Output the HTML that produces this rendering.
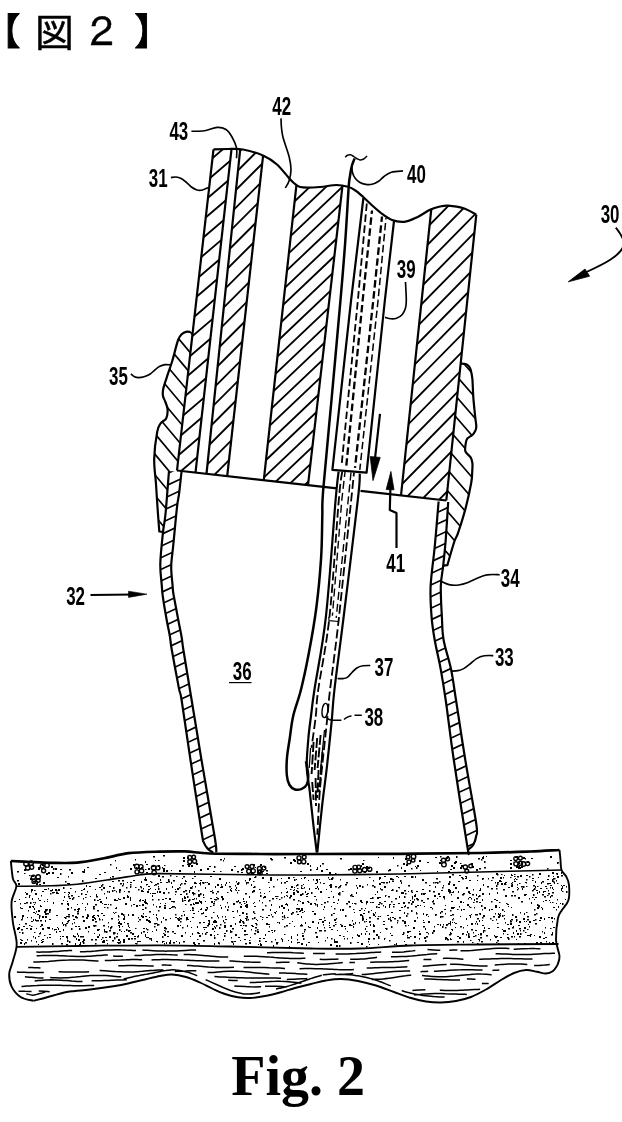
<!DOCTYPE html>
<html lang="ja"><head><meta charset="utf-8"><title>図2</title>
<style>html,body{margin:0;padding:0;background:#fff}svg{display:block;filter:grayscale(1)}</style></head>
<body><svg width="622" height="1122" viewBox="0 0 622 1122">
<defs><clipPath id="c1"><path d="M213.5,149.3 L214.6,149.3 L216.1,149.2 L217.9,149.2 L219.8,149.1 L221.9,149.1 L224.0,149.0 L226.1,149.0 L228.0,149.0 L229.8,149.0 L231.5,149.2 L195.5,472.6 L177.0,470.5Z"/></clipPath><clipPath id="c2"><path d="M240.2,149.3 L240.9,149.2 L243.0,149.5 L245.3,150.0 L247.9,150.6 L250.6,151.3 L253.3,152.1 L256.1,152.9 L258.7,153.8 L261.2,154.8 L263.1,155.6 L227.2,476.1 L206.5,473.8Z"/></clipPath><clipPath id="c3"><path d="M296.4,185.3 L297.0,185.5 L297.7,186.0 L298.3,186.4 L298.9,186.7 L299.4,186.9 L300.0,187.1 L300.8,187.2 L301.7,187.3 L303.0,187.4 L304.6,187.5 L306.5,187.5 L308.6,187.5 L310.8,187.4 L313.2,187.4 L315.5,187.3 L317.8,187.1 L320.0,187.0 L322.1,186.8 L324.3,186.5 L326.5,186.2 L328.7,185.9 L330.8,185.5 L332.8,185.3 L334.8,185.1 L336.6,185.0 L338.3,185.0 L339.9,185.1 L341.4,185.3 L342.5,185.6 L308.0,485.1 L263.8,480.2Z"/></clipPath><clipPath id="c4"><path d="M431.3,209.2 L431.4,209.2 L432.7,208.6 L434.0,208.2 L435.3,207.7 L436.5,207.4 L437.7,207.1 L438.9,206.8 L440.0,206.5 L441.0,206.2 L442.0,206.0 L442.8,205.8 L443.7,205.7 L444.5,205.6 L445.5,205.5 L446.7,205.5 L448.0,205.6 L449.6,205.7 L451.4,205.9 L453.4,206.2 L455.4,206.4 L457.6,206.8 L459.6,207.2 L461.6,207.7 L463.5,208.2 L465.3,208.9 L467.2,209.7 L469.1,210.6 L470.9,211.6 L472.6,212.5 L474.1,213.4 L475.3,214.1 L476.3,214.6 L446.3,500.5 L401.0,495.5Z"/></clipPath><clipPath id="c5"><path d="M169.0,471.0 L168.6,475.8 L168.1,482.7 L167.5,490.8 L166.8,499.1 L166.2,506.8 L165.6,513.0 L165.1,517.5 L164.6,520.9 L164.2,523.7 L163.8,526.3 L163.3,529.3 L162.9,533.0 L162.4,537.6 L161.9,542.8 L161.3,548.3 L160.9,553.8 L160.5,559.1 L160.3,563.8 L160.3,568.1 L160.5,572.1 L160.8,576.0 L161.2,579.5 L161.5,582.8 L161.8,585.7 L162.0,588.1 L162.1,589.9 L162.2,591.4 L162.3,592.9 L162.6,594.7 L162.9,597.2 L163.4,600.4 L164.0,604.2 L164.7,608.3 L165.4,612.4 L166.1,616.4 L166.7,620.0 L167.3,623.2 L167.9,626.2 L168.5,629.1 L169.0,631.8 L169.5,634.5 L170.0,637.0 L170.3,639.1 L170.5,640.7 L170.7,642.1 L170.9,643.9 L171.2,646.4 L171.8,650.0 L172.7,655.3 L174.0,662.0 L175.4,669.4 L176.7,676.8 L178.0,683.4 L179.0,688.6 L179.6,691.5 L180.0,692.6 L180.2,693.0 L180.4,693.6 L180.9,695.6 L181.6,700.0 L182.7,707.0 L184.0,716.0 L185.5,726.2 L187.1,737.3 L188.8,748.7 L190.5,760.0 L192.3,772.0 L194.4,785.4 L196.5,799.1 L198.5,812.1 L200.3,823.4 L201.6,832.0 L202.4,837.3 L202.9,840.1 L203.1,841.1 L203.1,841.2 L203.3,841.3 L203.6,842.0 L204.1,843.3 L204.7,844.5 L205.3,845.6 L206.0,846.6 L206.7,847.6 L207.5,848.5 L208.4,849.4 L209.5,850.2 L210.6,851.0 L211.7,851.6 L212.6,852.2 L213.2,852.6 L216.3,852.4 L216.3,851.4 L216.3,850.7 L216.3,849.5 L216.2,847.3 L215.7,843.3 L214.7,837.0 L213.1,827.6 L211.1,815.5 L208.7,801.7 L206.2,787.1 L203.7,772.9 L201.5,760.0 L199.5,748.1 L197.6,736.3 L195.7,724.8 L193.9,713.8 L192.2,703.4 L190.6,693.8 L189.1,684.8 L187.7,676.4 L186.4,668.6 L185.3,661.5 L184.2,655.3 L183.4,650.0 L182.8,646.1 L182.5,643.5 L182.3,641.8 L182.1,640.5 L181.9,639.0 L181.6,637.0 L181.2,634.5 L180.7,631.9 L180.1,629.2 L179.6,626.4 L178.9,623.3 L178.3,620.0 L177.6,616.1 L176.7,611.7 L175.8,607.0 L174.9,602.5 L174.2,598.4 L173.6,595.0 L173.2,592.7 L173.0,591.1 L172.9,590.0 L172.8,589.0 L172.7,587.6 L172.6,585.7 L172.4,583.1 L172.0,580.1 L171.7,576.8 L171.4,573.3 L171.2,569.8 L171.2,566.4 L171.3,563.3 L171.5,560.3 L171.9,557.3 L172.3,554.0 L172.7,550.3 L173.2,545.8 L173.7,540.1 L174.4,533.3 L175.1,526.1 L175.8,518.9 L176.4,512.4 L177.0,507.2 L177.4,503.6 L177.8,501.1 L178.1,499.3 L178.4,497.8 L178.8,496.0 L179.1,493.6 L179.5,490.2 L180.0,486.2 L180.4,481.9 L180.9,477.9 L181.2,474.4 L181.5,472.0Z"/></clipPath><clipPath id="c6"><path d="M438.6,501.5 L438.2,506.3 L437.7,512.9 L437.0,520.7 L436.3,529.1 L435.6,537.4 L434.9,545.0 L434.2,552.1 L433.3,559.3 L432.5,566.4 L431.7,573.4 L431.0,580.0 L430.6,586.3 L430.4,592.1 L430.5,597.7 L430.6,602.9 L430.9,607.9 L431.3,612.6 L431.6,617.2 L432.0,621.4 L432.4,625.2 L432.8,628.7 L433.4,632.3 L434.0,636.0 L434.7,640.0 L435.5,644.4 L436.5,649.0 L437.5,653.8 L438.6,658.6 L439.6,663.6 L440.6,668.6 L441.5,673.3 L442.2,677.8 L443.0,682.3 L443.8,687.3 L444.7,693.1 L445.7,700.0 L446.8,708.0 L448.0,716.9 L449.2,726.5 L450.6,737.0 L452.1,748.1 L453.8,760.0 L455.9,773.9 L458.4,790.1 L461.1,807.0 L463.6,823.1 L465.8,836.9 L467.4,846.8 L468.3,852.1 L468.6,854.0 L468.5,853.6 L468.3,851.9 L468.1,850.2 L468.0,849.5 L468.2,849.5 L468.8,849.1 L469.6,848.5 L470.5,847.8 L471.5,847.0 L472.4,846.1 L473.2,845.0 L473.8,843.8 L474.5,842.4 L475.0,841.0 L475.5,839.4 L475.9,837.7 L476.2,836.0 L476.5,834.8 L476.9,834.1 L477.1,833.4 L477.2,832.0 L477.0,829.0 L476.3,824.0 L475.1,816.3 L473.4,806.4 L471.4,795.0 L469.3,783.0 L467.2,771.0 L465.3,760.0 L463.6,749.4 L461.9,738.6 L460.3,728.0 L458.7,717.7 L457.3,708.3 L456.0,700.0 L454.9,693.1 L454.1,687.3 L453.3,682.3 L452.6,677.8 L451.8,673.3 L450.9,668.6 L449.7,663.6 L448.4,658.6 L447.0,653.8 L445.7,649.0 L444.5,644.4 L443.6,640.0 L443.0,636.0 L442.6,632.3 L442.4,628.7 L442.2,625.2 L442.1,621.4 L441.9,617.2 L441.6,612.4 L441.4,607.1 L441.1,601.6 L440.9,596.1 L440.8,590.9 L440.8,586.3 L441.0,582.3 L441.3,578.9 L441.8,575.7 L442.3,572.6 L442.8,569.3 L443.2,565.7 L443.6,561.9 L444.0,558.0 L444.4,553.9 L444.9,549.7 L445.3,545.1 L445.7,540.0 L446.1,533.9 L446.6,526.8 L447.1,519.4 L447.6,512.3 L447.9,506.3 L448.2,502.0Z"/></clipPath><clipPath id="c7"><path d="M190.7,332.0 L190.0,331.9 L189.1,331.8 L188.1,331.7 L187.0,331.7 L186.0,331.8 L185.2,332.0 L184.3,332.3 L183.6,332.7 L182.8,333.3 L182.0,334.0 L181.2,334.7 L180.5,335.4 L179.8,336.4 L179.0,337.8 L178.1,340.0 L177.1,343.2 L176.0,347.3 L174.8,351.8 L173.6,356.4 L172.4,360.5 L171.2,364.3 L170.0,368.0 L168.8,371.5 L167.6,374.9 L166.6,377.9 L165.7,380.6 L164.9,383.0 L164.2,385.2 L163.6,387.1 L163.2,389.0 L162.9,390.7 L162.8,392.1 L162.7,393.5 L162.8,394.7 L163.0,396.0 L163.3,397.2 L163.8,398.4 L164.3,399.5 L164.9,400.7 L165.4,402.0 L165.9,403.4 L166.5,404.8 L167.0,406.3 L167.4,407.9 L167.6,409.5 L167.6,411.3 L167.5,413.1 L167.2,415.0 L166.8,416.8 L166.2,418.4 L165.3,419.6 L164.1,420.6 L162.8,421.4 L161.6,422.3 L160.5,423.5 L159.7,424.7 L159.0,425.7 L158.4,427.0 L157.8,429.0 L157.2,431.9 L156.5,436.1 L155.7,441.5 L155.0,447.3 L154.5,453.3 L154.2,458.9 L154.3,464.0 L154.6,468.9 L155.0,473.8 L155.6,478.8 L156.0,484.0 L156.4,489.7 L156.8,495.8 L157.2,502.0 L157.6,507.8 L157.9,513.0 L158.2,517.7 L158.6,522.0 L158.9,525.9 L159.1,529.2 L159.3,531.5 L163.2,531.8 L163.3,529.3 L163.8,526.3 L164.2,523.7 L164.6,520.9 L165.1,517.5 L165.6,513.0 L166.2,506.8 L166.8,499.1 L167.5,490.8 L168.1,482.7 L168.6,475.8 L169.0,471.0 L177.0,470.5 L185.0,400.0 L192.7,332.0Z"/></clipPath><clipPath id="c8"><path d="M460.0,363.6 L460.8,363.6 L462.0,363.7 L463.3,363.7 L464.6,363.8 L465.7,364.0 L466.5,364.3 L467.1,364.6 L467.6,365.0 L468.1,365.5 L468.6,366.0 L469.1,366.6 L469.5,367.1 L469.9,367.8 L470.3,368.7 L470.7,369.8 L471.1,371.1 L471.4,372.6 L471.8,374.4 L472.1,376.5 L472.4,379.1 L472.6,382.3 L472.8,386.1 L473.0,390.2 L473.2,394.4 L473.4,398.4 L473.7,402.4 L474.1,406.6 L474.6,410.7 L475.0,414.5 L475.3,417.7 L475.6,420.2 L475.9,422.1 L476.1,423.7 L476.2,425.1 L476.3,426.4 L476.2,427.6 L476.1,428.6 L475.9,429.4 L475.6,430.2 L475.2,431.0 L474.8,431.8 L474.3,432.7 L473.8,433.5 L473.1,434.2 L472.4,435.0 L471.5,435.7 L470.3,436.4 L469.1,437.1 L468.0,437.8 L467.2,438.6 L466.6,439.5 L466.3,440.4 L466.0,441.4 L465.9,442.5 L465.7,443.7 L465.5,445.1 L465.2,446.7 L465.1,448.3 L465.1,449.9 L465.4,451.4 L466.1,452.7 L467.2,453.9 L468.4,455.0 L469.6,456.1 L470.5,457.2 L471.1,458.3 L471.6,459.4 L471.9,460.4 L472.2,461.6 L472.4,463.0 L472.5,464.6 L472.5,466.3 L472.4,468.1 L472.3,470.0 L472.2,472.0 L472.1,473.8 L472.1,475.6 L472.0,477.5 L471.7,479.9 L471.2,483.0 L470.4,487.1 L469.4,492.1 L468.2,497.4 L466.9,502.9 L465.6,508.2 L464.1,513.5 L462.5,519.0 L460.8,524.4 L459.2,529.3 L457.9,533.3 L457.0,535.9 L456.3,537.3 L455.7,538.3 L455.1,539.6 L454.2,542.0 L452.9,546.1 L451.4,551.3 L449.8,556.9 L448.4,561.8 L447.4,565.2 L443.4,565.7 L443.6,561.9 L444.0,558.0 L444.4,553.9 L444.9,549.7 L445.3,545.1 L445.7,540.0 L446.1,533.9 L446.6,526.8 L447.1,519.4 L447.6,512.3 L447.9,506.3 L448.2,502.0 L446.3,500.5 L453.7,430.0 L460.7,363.5Z"/></clipPath></defs>
<rect width="622" height="1122" fill="#fff"/>
<g fill="none" stroke="#000" stroke-width="2.2" stroke-linecap="butt" stroke-linejoin="round">
<path d="M213.5,149.3 C215.9,149.2 223.1,149.0 228.0,149.0 C232.9,149.0 237.1,148.4 243.0,149.5 C248.9,150.6 257.8,153.2 263.5,155.7 C269.2,158.2 272.6,160.6 277.0,164.5 C281.4,168.4 286.5,175.5 289.8,179.0 C293.1,182.5 294.8,184.1 297.0,185.5 C299.2,186.9 299.2,187.2 303.0,187.4 C306.8,187.7 314.4,187.4 320.0,187.0 C325.6,186.6 331.9,185.0 336.6,185.0 C341.3,185.0 344.9,185.9 348.0,186.8 C351.1,187.7 352.9,188.8 355.4,190.5 C357.9,192.2 360.6,194.7 363.2,197.0 C365.8,199.3 367.9,201.6 370.9,204.3 C373.9,207.0 377.6,210.4 381.0,213.0 C384.4,215.6 387.5,218.2 391.4,219.7 C395.3,221.2 400.0,222.2 404.3,221.8 C408.6,221.4 412.9,219.2 417.2,217.2 C421.5,215.2 426.2,211.6 430.0,209.8 C433.8,208.0 437.0,207.2 440.0,206.5 C443.0,205.8 444.1,205.3 448.0,205.6 C451.9,205.9 458.8,206.7 463.5,208.2 C468.2,209.7 474.2,213.5 476.3,214.6"/>
<path d="M213.5,149.3 L177.0,470.5"/>
<path d="M231.5,149.2 L195.5,472.6"/>
<path d="M240.2,149.3 L206.5,473.8"/>
<path d="M263.1,155.6 L227.2,476.1"/>
<path d="M296.4,185.3 L263.8,480.2"/>
<path d="M342.5,185.6 L308.0,485.1"/>
<path d="M431.3,209.2 L401.0,495.5"/>
<path d="M476.3,214.6 L446.3,500.5"/>
<path d="M175.0,82.8L233.5,32.9M175.0,100.7L233.5,50.8M175.0,118.6L233.5,68.6M175.0,136.5L233.5,86.5M175.0,154.4L233.5,104.4M175.0,172.2L233.5,122.3M175.0,190.1L233.5,140.2M175.0,208.0L233.5,158.0M175.0,225.9L233.5,175.9M175.0,243.8L233.5,193.8M175.0,261.6L233.5,211.7M175.0,279.5L233.5,229.6M175.0,297.4L233.5,247.4M175.0,315.3L233.5,265.3M175.0,333.2L233.5,283.2M175.0,351.0L233.5,301.1M175.0,368.9L233.5,318.9M175.0,386.8L233.5,336.8M175.0,404.7L233.5,354.7M175.0,422.5L233.5,372.6M175.0,440.4L233.5,390.5M175.0,458.3L233.5,408.3M175.0,476.2L233.5,426.2M175.0,494.1L233.5,444.1M175.0,511.9L233.5,462.0" clip-path="url(#c1)" stroke-width="1.85"/>
<path d="M204.5,81.0L265.1,20.4M204.5,98.6L265.1,38.0M204.5,116.1L265.1,55.5M204.5,133.7L265.1,73.1M204.5,151.2L265.1,90.6M204.5,168.8L265.1,108.2M204.5,186.3L265.1,125.7M204.5,203.9L265.1,143.3M204.5,221.4L265.1,160.8M204.5,239.0L265.1,178.4M204.5,256.5L265.1,195.9M204.5,274.1L265.1,213.5M204.5,291.6L265.1,231.0M204.5,309.2L265.1,248.6M204.5,326.7L265.1,266.1M204.5,344.3L265.1,283.7M204.5,361.9L265.1,301.3M204.5,379.4L265.1,318.8M204.5,397.0L265.1,336.4M204.5,414.5L265.1,353.9M204.5,432.1L265.1,371.5M204.5,449.6L265.1,389.0M204.5,467.2L265.1,406.6M204.5,484.7L265.1,424.1M204.5,502.3L265.1,441.7M204.5,519.8L265.1,459.2M204.5,537.4L265.1,476.8" clip-path="url(#c2)" stroke-width="1.85"/>
<path d="M261.8,93.6L344.5,15.1M261.8,109.0L344.5,30.5M261.8,124.4L344.5,46.0M261.8,139.9L344.5,61.4M261.8,155.3L344.5,76.8M261.8,170.7L344.5,92.3M261.8,186.2L344.5,107.7M261.8,201.6L344.5,123.1M261.8,217.0L344.5,138.6M261.8,232.5L344.5,154.0M261.8,247.9L344.5,169.4M261.8,263.3L344.5,184.9M261.8,278.8L344.5,200.3M261.8,294.2L344.5,215.7M261.8,309.7L344.5,231.2M261.8,325.1L344.5,246.6M261.8,340.5L344.5,262.0M261.8,356.0L344.5,277.5M261.8,371.4L344.5,292.9M261.8,386.8L344.5,308.3M261.8,402.3L344.5,323.8M261.8,417.7L344.5,339.2M261.8,433.1L344.5,354.7M261.8,448.6L344.5,370.1M261.8,464.0L344.5,385.5M261.8,479.4L344.5,401.0M261.8,494.9L344.5,416.4M261.8,510.3L344.5,431.8M261.8,525.7L344.5,447.3M261.8,541.2L344.5,462.7M261.8,556.6L344.5,478.1" clip-path="url(#c3)" stroke-width="1.85"/>
<path d="M399.0,113.9L478.3,33.2M399.0,131.7L478.3,51.0M399.0,149.5L478.3,68.8M399.0,167.2L478.3,86.5M399.0,185.0L478.3,104.3M399.0,202.8L478.3,122.1M399.0,220.5L478.3,139.8M399.0,238.3L478.3,157.6M399.0,256.1L478.3,175.4M399.0,273.9L478.3,193.2M399.0,291.6L478.3,210.9M399.0,309.4L478.3,228.7M399.0,327.2L478.3,246.5M399.0,345.0L478.3,264.3M399.0,362.7L478.3,282.0M399.0,380.5L478.3,299.8M399.0,398.3L478.3,317.6M399.0,416.1L478.3,335.4M399.0,433.8L478.3,353.1M399.0,451.6L478.3,370.9M399.0,469.4L478.3,388.7M399.0,487.2L478.3,406.5M399.0,504.9L478.3,424.2M399.0,522.7L478.3,442.0M399.0,540.5L478.3,459.8M399.0,558.2L478.3,477.5M399.0,576.0L478.3,495.3" clip-path="url(#c4)" stroke-width="1.85"/>
<path d="M177.0,470.5 L337,488.3 M360.5,490.9 L446.3,500.5"/>
<path d="M354.6,158.5 C354.1,159.8 352.6,163.1 351.8,166.0 C351.0,168.9 350.5,172.3 350.0,176.0 C349.5,179.7 349.4,176.7 348.6,188.2 C347.8,199.7 346.4,226.4 345.0,245.0 C343.6,263.6 342.8,274.2 340.5,300.0 C338.2,325.8 334.4,368.3 331.5,400.0 C328.6,431.7 324.7,470.7 323.2,490.0 C321.7,509.3 322.6,504.7 322.3,516.0 C322.0,527.3 322.1,542.6 321.1,557.9 C320.1,573.2 318.4,591.9 316.3,608.0 C314.2,624.1 311.2,640.6 308.6,654.3 C306.0,668.0 303.5,679.7 300.9,690.0 C298.3,700.3 295.0,708.0 293.2,716.0 C291.4,724.0 290.8,731.1 289.8,738.0 C288.8,744.9 287.5,751.3 287.0,757.5 C286.5,763.7 286.4,770.4 286.8,775.0 C287.2,779.6 288.1,782.6 289.5,785.0 C290.9,787.4 292.9,788.9 295.0,789.5 C297.1,790.1 299.8,789.6 301.8,788.8 C303.8,788.0 305.7,786.8 306.8,784.5 C307.9,782.2 308.4,778.8 308.2,774.9 C308.0,771.0 306.3,763.6 305.9,761.4" stroke-width="2.5"/>
<path d="M345.1,157.2 C345.5,156.9 346.6,155.6 347.5,155.2 C348.4,154.8 349.5,154.6 350.5,154.8 C351.5,155.0 352.5,155.7 353.5,156.3 C354.5,156.9 355.6,157.9 356.7,158.5 C357.8,159.1 358.9,159.9 360.0,160.0 C361.1,160.1 362.3,159.7 363.2,159.3 C364.1,158.9 364.9,158.1 365.5,157.5 C366.1,156.9 366.8,156.1 367.0,155.8" stroke-width="1.5"/>
<path d="M363.4,198.0 L351.1,300.0 L332.4,469.8 L366.6,472.6 L384.9,300 L394.0,221.0"/>
<path d="M366.8,203.5 L357.9,300.0 L341.5,466.0" stroke-dasharray="7.5 3.5" stroke-width="1.8"/>
<path d="M372.0,210.5 L362.7,300.0 L346.3,466.0" stroke-dasharray="7.5 3.5" stroke-dashoffset="4" stroke-width="2.3"/>
<path d="M382.0,216.5 L373.3,300.0 L355.0,467.9" stroke-dasharray="7.5 3.5" stroke-dashoffset="2" stroke-width="2.3"/>
<path d="M386.0,218.0 L378.1,300.0 L359.8,469.8" stroke-dasharray="7.5 3.5" stroke-dashoffset="6" stroke-width="1.5"/>
<path d="M338.6,471.7 C338.1,476.4 337.7,476.0 335.6,500.0 C333.5,524.0 329.5,584.1 326.0,615.8 C322.5,647.5 316.9,673.3 314.4,690.0 C311.9,706.7 312.0,708.0 311.0,716.0 C310.0,724.0 309.1,729.5 308.4,738.0 C307.7,746.5 306.5,758.3 306.7,767.0 C306.9,775.7 308.5,780.3 309.6,790.0 C310.7,799.7 312.2,814.6 313.4,825.0 C314.6,835.4 316.2,847.9 316.8,852.5"/>
<path d="M359.8,473.6 C359.5,478.0 360.6,475.7 357.8,500.0 C355.1,524.3 347.2,587.9 343.3,619.6 C339.4,651.3 336.3,673.1 334.4,690.0 C332.5,706.9 332.9,708.1 331.7,720.9 C330.4,733.7 328.5,752.9 326.9,767.0 C325.3,781.1 323.7,791.5 322.1,805.8 C320.5,820.0 318.1,844.7 317.3,852.5"/>
<path d="M342.2,471.7 C341.6,476.4 340.9,476.0 338.8,500.0 C336.7,524.0 333.0,584.1 329.6,615.8 C326.2,647.5 320.5,673.3 318.2,690.0 C315.9,706.7 316.9,706.4 315.8,716.0 C314.7,725.6 312.2,742.6 311.5,747.9" stroke-dasharray="9 3.5" stroke-width="1.8"/>
<path d="M354.0,472.7 C353.5,477.2 353.8,475.5 351.2,500.0 C348.6,524.5 342.2,587.9 338.7,619.6 C335.2,651.3 331.9,673.9 330.0,690.0 C328.1,706.1 329.1,699.9 327.5,716.0 C325.9,732.1 321.9,766.7 320.2,786.5 C318.5,806.3 317.8,826.7 317.3,834.7" stroke-dasharray="9 3.5" stroke-dashoffset="5" stroke-width="1.8"/>
<path d="M328.8,617 L329,620.6 L338.5,621.5 L338.8,617.5" stroke-width="1.2"/>
<path d="M345.0,472.0 L341.8,500.0 L332.4,615.8" stroke-dasharray="8 4" stroke-dashoffset="3" stroke-width="1.4"/>
<path d="M351.0,472.5 L348.2,500.0 L336.2,618.0" stroke-dasharray="8 4" stroke-width="1.4"/>
<ellipse cx="325" cy="710.5" rx="2.9" ry="7.2" transform="rotate(7 325 710.5)" stroke-width="1.4"/>
<path d="M313.6,742 L311.6,774 M317.2,738 L314.6,770 M320.6,735 L317.6,768 M322.6,752 L319.2,792 M315.6,778 L316.0,806 M312.2,782 L313.6,800 M318.6,770 L317.2,798" stroke-width="1.9" stroke-dasharray="10 2.5"/>
<path d="M324.5,730 L320.5,770 M310.6,748 L309.2,768" stroke-width="1.3"/>
<path d="M380.0,413.8 L374.6,462"/>
<path d="M370.2,456.6 L380.2,457.4 L373.0,480.6 Z" fill="#000" stroke-width="0.8"/>
<path d="M390.7,478 L389.8,510.0 L396.5,513.0 L396.5,548"/>
<path d="M390.9,471.5 L386.2,489.5 L394.0,489.8 Z" fill="#000" stroke-width="0.8"/>
<path d="M169.0,471.0 C168.4,478.0 166.6,502.7 165.6,513.0 C164.6,523.3 163.8,524.5 162.9,533.0 C162.0,541.5 160.5,555.0 160.3,563.8 C160.1,572.6 161.4,580.1 161.8,585.7 C162.2,591.3 162.1,591.5 162.9,597.2 C163.7,602.9 165.5,613.4 166.7,620.0 C167.9,626.6 169.2,632.0 170.0,637.0 C170.8,642.0 170.3,641.4 171.8,650.0 C173.3,658.6 177.4,680.3 179.0,688.6 C180.6,696.9 179.7,688.1 181.6,700.0 C183.5,711.9 187.2,738.0 190.5,760.0 C193.8,782.0 199.4,818.3 201.6,832.0 C203.8,845.7 202.6,839.2 203.6,842.0 C204.6,844.8 205.9,846.7 207.5,848.5 C209.1,850.3 212.2,851.9 213.2,852.6"/>
<path d="M181.5,472.0 C181.1,475.6 179.8,487.7 179.1,493.6 C178.3,499.5 178.0,498.5 177.0,507.2 C176.0,515.9 174.2,535.9 173.2,545.8 C172.2,555.7 171.3,559.8 171.2,566.4 C171.1,573.0 172.2,580.9 172.6,585.7 C173.0,590.5 172.6,589.3 173.6,595.0 C174.6,600.7 177.0,613.0 178.3,620.0 C179.6,627.0 180.8,632.0 181.6,637.0 C182.4,642.0 181.9,640.5 183.4,650.0 C184.9,659.5 187.6,675.5 190.6,693.8 C193.6,712.1 197.5,736.1 201.5,760.0 C205.5,783.9 212.2,821.6 214.7,837.0 C217.2,852.4 216.0,849.8 216.3,852.4"/>
<path d="M438.6,501.5 C438.0,508.8 436.2,530.9 434.9,545.0 C433.6,559.1 431.2,574.3 430.6,586.3 C430.1,598.3 430.9,608.2 431.6,617.2 C432.3,626.2 433.2,631.4 434.7,640.0 C436.2,648.6 438.8,658.6 440.6,668.6 C442.4,678.6 443.5,684.8 445.7,700.0 C447.9,715.2 450.2,735.5 453.8,760.0 C457.4,784.5 465.0,831.9 467.4,846.8 C469.8,861.7 467.9,849.0 468.0,849.5"/>
<path d="M448.2,502.0 C447.8,508.3 446.5,529.4 445.7,540.0 C444.9,550.6 444.0,558.0 443.2,565.7 C442.4,573.4 441.0,577.7 440.8,586.3 C440.6,594.9 441.4,608.2 441.9,617.2 C442.4,626.2 442.1,631.4 443.6,640.0 C445.1,648.6 448.8,658.6 450.9,668.6 C453.0,678.6 453.6,684.8 456.0,700.0 C458.4,715.2 461.9,739.3 465.3,760.0 C468.7,780.7 474.5,811.3 476.3,824.0 C478.1,836.7 476.7,832.5 476.2,836.0 C475.7,839.5 474.5,842.8 473.2,845.0 C471.9,847.2 469.0,848.8 468.2,849.5"/>
<path d="M158.3,443.0L218.3,415.0M158.3,454.6L218.3,426.6M158.3,466.2L218.3,438.2M158.3,477.8L218.3,449.8M158.3,489.4L218.3,461.4M158.3,501.0L218.3,473.0M158.3,512.6L218.3,484.6M158.3,524.2L218.3,496.2M158.3,535.8L218.3,507.8M158.3,547.4L218.3,519.4M158.3,559.0L218.3,531.0M158.3,570.6L218.3,542.6M158.3,582.2L218.3,554.2M158.3,593.8L218.3,565.8M158.3,605.4L218.3,577.4M158.3,617.0L218.3,589.0M158.3,628.6L218.3,600.6M158.3,640.2L218.3,612.2M158.3,651.8L218.3,623.8M158.3,663.4L218.3,635.4M158.3,675.0L218.3,647.0M158.3,686.6L218.3,658.6M158.3,698.2L218.3,670.2M158.3,709.8L218.3,681.8M158.3,721.4L218.3,693.4M158.3,733.0L218.3,705.0M158.3,744.6L218.3,716.6M158.3,756.2L218.3,728.2M158.3,767.8L218.3,739.8M158.3,779.4L218.3,751.4M158.3,791.0L218.3,763.0M158.3,802.6L218.3,774.6M158.3,814.2L218.3,786.2M158.3,825.8L218.3,797.8M158.3,837.4L218.3,809.4M158.3,849.0L218.3,821.0M158.3,860.6L218.3,832.6M158.3,872.2L218.3,844.2" clip-path="url(#c5)" stroke-width="1.65"/>
<path d="M428.4,481.8L479.2,458.2M428.4,493.4L479.2,469.8M428.4,505.0L479.2,481.4M428.4,516.6L479.2,493.0M428.4,528.2L479.2,504.6M428.4,539.8L479.2,516.2M428.4,551.4L479.2,527.8M428.4,563.0L479.2,539.4M428.4,574.6L479.2,551.0M428.4,586.2L479.2,562.6M428.4,597.8L479.2,574.2M428.4,609.4L479.2,585.8M428.4,621.0L479.2,597.4M428.4,632.6L479.2,609.0M428.4,644.2L479.2,620.6M428.4,655.8L479.2,632.2M428.4,667.4L479.2,643.8M428.4,679.0L479.2,655.4M428.4,690.6L479.2,667.0M428.4,702.2L479.2,678.6M428.4,713.8L479.2,690.2M428.4,725.4L479.2,701.8M428.4,737.0L479.2,713.4M428.4,748.6L479.2,725.0M428.4,760.2L479.2,736.6M428.4,771.8L479.2,748.2M428.4,783.4L479.2,759.8M428.4,795.0L479.2,771.4M428.4,806.6L479.2,783.0M428.4,818.2L479.2,794.6M428.4,829.8L479.2,806.2M428.4,841.4L479.2,817.8M428.4,853.0L479.2,829.4M428.4,864.6L479.2,841.0M428.4,876.2L479.2,852.6" clip-path="url(#c6)" stroke-width="1.65"/>
<path d="M190.7,332.0 C189.9,332.0 187.4,331.5 186.0,331.8 C184.6,332.1 183.3,332.6 182.0,334.0 C180.7,335.4 179.7,335.6 178.1,340.0 C176.5,344.4 174.3,354.2 172.4,360.5 C170.5,366.8 168.1,373.1 166.6,377.9 C165.1,382.6 163.8,386.0 163.2,389.0 C162.6,392.0 162.6,393.8 163.0,396.0 C163.4,398.2 164.6,399.8 165.4,402.0 C166.2,404.2 167.5,406.8 167.6,409.5 C167.7,412.2 167.4,416.1 166.2,418.4 C165.0,420.7 162.0,421.2 160.5,423.5 C159.0,425.8 158.2,426.0 157.2,431.9 C156.1,437.8 154.4,450.2 154.2,458.9 C154.0,467.6 155.4,475.0 156.0,484.0 C156.6,493.0 157.3,505.1 157.9,513.0 C158.5,520.9 159.1,528.4 159.3,531.5 L163.2,531.8"/>
<path d="M152.2,266.1L194.7,316.8M152.2,286.6L194.7,337.3M152.2,307.2L194.7,357.9M152.2,327.7L194.7,378.4M152.2,348.3L194.7,399.0M152.2,368.8L194.7,419.5M152.2,389.4L194.7,440.1M152.2,409.9L194.7,460.6M152.2,430.5L194.7,481.2M152.2,451.0L194.7,501.7M152.2,471.6L194.7,522.3M152.2,492.1L194.7,542.8M152.2,512.7L194.7,563.4M152.2,533.2L194.7,583.9M152.2,553.8L194.7,604.5M152.2,574.3L194.7,625.0" clip-path="url(#c7)" stroke-width="1.65"/>
<path d="M460.0,363.6 C460.9,363.7 464.3,363.6 465.7,364.0 C467.1,364.4 467.8,365.0 468.6,366.0 C469.4,367.0 470.1,367.6 470.7,369.8 C471.3,372.0 471.9,374.3 472.4,379.1 C472.8,383.9 472.9,392.0 473.4,398.4 C473.9,404.8 474.8,413.0 475.3,417.7 C475.8,422.4 476.3,424.2 476.3,426.4 C476.3,428.6 475.9,429.6 475.2,431.0 C474.5,432.4 473.7,433.7 472.4,435.0 C471.1,436.3 468.3,437.2 467.2,438.6 C466.1,440.1 466.0,441.6 465.7,443.7 C465.4,445.8 464.6,449.1 465.4,451.4 C466.2,453.6 469.3,455.3 470.5,457.2 C471.7,459.1 472.1,460.5 472.4,463.0 C472.7,465.5 472.4,468.7 472.2,472.0 C472.0,475.3 472.3,477.0 471.2,483.0 C470.1,489.0 467.8,499.8 465.6,508.2 C463.4,516.6 459.8,527.7 457.9,533.3 C456.0,538.9 455.9,536.7 454.2,542.0 C452.4,547.3 448.5,561.3 447.4,565.2 L443.4,565.7"/>
<path d="M441.4,316.9L478.3,359.4M441.4,337.8L478.3,380.2M441.4,358.6L478.3,401.1M441.4,379.5L478.3,421.9M441.4,400.3L478.3,442.7M441.4,421.1L478.3,463.6M441.4,442.0L478.3,484.4M441.4,462.8L478.3,505.3M441.4,483.7L478.3,526.1M441.4,504.5L478.3,547.0M441.4,525.4L478.3,567.8M441.4,546.2L478.3,588.7M441.4,567.1L478.3,609.5M441.4,587.9L478.3,630.4M441.4,608.8L478.3,651.2" clip-path="url(#c8)" stroke-width="1.65"/>
<path d="M10.8,861.0 C14.0,861.2 23.2,861.7 30.0,862.0 C36.8,862.3 43.5,862.7 51.4,862.8 C59.3,862.9 68.6,863.3 77.2,862.6 C85.8,861.9 94.3,860.1 102.9,858.5 C111.5,856.9 119.1,854.4 128.6,853.2 C138.1,852.1 150.6,851.9 160.0,851.6 C169.4,851.3 176.7,851.1 185.0,851.4 C193.3,851.7 197.5,853.1 210.0,853.5 C222.5,853.9 243.2,853.9 260.0,854.0 C276.8,854.1 287.7,854.0 311.0,854.0 C334.3,854.0 371.8,854.0 400.0,853.8 C428.2,853.6 458.3,853.4 480.0,853.0 C501.7,852.6 516.8,852.0 530.0,851.5 C543.2,851.0 554.6,850.2 559.5,850.0" stroke-width="2.7"/>
<path d="M10.8,861.0 C11.2,863.9 12.0,874.4 12.9,878.6 C13.8,882.8 16.6,882.4 16.4,886.3 C16.2,890.1 12.2,895.7 11.6,901.7 C11.0,907.7 12.1,915.2 12.9,922.3 C13.8,929.3 16.7,937.5 16.7,944.0 C16.7,950.5 14.2,956.0 12.9,961.0 C11.7,966.0 9.4,969.5 9.2,973.8 C9.0,978.1 9.7,982.7 11.6,986.6 C13.5,990.5 17.0,994.6 20.6,997.0 C24.2,999.4 31.3,1000.2 33.4,1000.8" stroke-width="1.9"/>
<path d="M33.4,1000.8 C35.5,1000.2 41.1,998.9 46.3,997.5 C51.4,996.1 59.5,993.6 64.3,992.5 C69.1,991.4 70.7,991.5 75.0,991.0 C79.3,990.5 83.3,990.3 90.0,989.5 C96.7,988.7 108.3,987.1 115.0,986.0 C121.7,984.9 125.0,984.1 130.0,983.0 C135.0,981.9 140.0,980.7 145.0,979.5 C150.0,978.3 155.5,976.8 160.0,976.0 C164.5,975.2 167.7,974.3 172.0,974.5 C176.3,974.7 181.3,975.7 186.0,977.0 C190.7,978.3 195.5,980.5 200.0,982.5 C204.5,984.5 208.8,987.1 213.0,989.0 C217.2,990.9 220.8,992.6 225.0,994.0 C229.2,995.4 233.8,996.6 238.0,997.3 C242.2,998.0 245.5,998.2 250.0,998.0 C254.5,997.8 260.0,996.9 265.0,996.0 C270.0,995.1 275.0,993.8 280.0,992.5 C285.0,991.2 289.8,989.4 295.0,988.0 C300.2,986.6 305.8,985.2 311.0,984.0 C316.2,982.8 321.0,981.3 326.0,980.5 C331.0,979.7 335.7,978.9 341.0,979.0 C346.3,979.1 352.2,979.9 358.0,981.0 C363.8,982.1 370.0,983.7 376.0,985.5 C382.0,987.3 388.2,989.9 394.0,992.0 C399.8,994.1 405.7,996.4 411.0,998.0 C416.3,999.6 421.0,1000.8 426.0,1001.5 C431.0,1002.2 436.0,1002.6 441.0,1002.5 C446.0,1002.4 451.0,1001.9 456.0,1001.0 C461.0,1000.1 466.0,998.9 471.0,997.0 C476.0,995.1 481.0,992.3 486.0,989.5 C491.0,986.7 496.3,982.8 501.0,980.0 C505.7,977.2 509.8,974.7 514.0,973.0 C518.2,971.3 522.2,970.2 526.0,970.0 C529.8,969.8 533.7,971.2 537.0,971.8 C540.3,972.4 543.3,973.6 546.0,973.5 C548.7,973.4 551.1,972.4 553.0,971.0 C554.9,969.6 556.8,966.0 557.5,965.0" stroke-width="1.9"/>
<path d="M559.5,850.0 C559.7,851.7 560.2,856.7 560.5,860.0 C560.8,863.3 560.5,867.2 561.5,870.0 C562.5,872.8 565.2,874.5 566.5,877.0 C567.8,879.5 568.7,881.2 569.0,885.0 C569.3,888.8 569.7,895.8 568.5,900.0 C567.3,904.2 563.8,907.0 562.0,910.0 C560.2,913.0 559.0,913.0 558.0,918.0 C557.0,923.0 555.8,933.7 556.0,940.0 C556.2,946.3 559.2,951.8 559.5,956.0 C559.8,960.2 557.8,963.5 557.5,965.0" stroke-width="1.9"/>
<path d="M16.4,886.3 C22.2,886.2 41.3,886.1 51.4,885.8 C61.5,885.4 66.5,885.4 77.2,884.2 C87.9,883.0 105.1,880.2 115.8,878.6 C126.5,877.0 134.1,875.5 141.5,874.7 C148.9,873.9 145.2,873.6 160.0,873.6 C174.8,873.6 204.8,874.3 230.0,874.5 C255.2,874.7 282.7,875.1 311.0,875.0 C339.3,874.9 371.8,874.5 400.0,874.0 C428.2,873.5 453.1,872.7 480.0,872.0 C506.9,871.3 547.9,870.3 561.5,870.0" stroke-width="1.6"/>
<path d="M16.7,946.8 C26.8,946.7 53.3,946.2 77.2,946.0 C101.1,945.8 134.5,945.2 160.0,945.3 C185.5,945.4 204.8,946.0 230.0,946.5 C255.2,947.0 289.3,948.2 311.0,948.5 C332.7,948.8 343.3,949.0 360.0,948.5 C376.7,948.0 391.0,946.2 411.0,945.5 C431.0,944.8 455.4,944.8 480.0,944.5 C504.6,944.2 545.4,944.1 558.5,944.0" stroke-width="1.8"/>
<path d="M192,886h1v1h-1zM469,880h2v1h-2zM518,888h1v1.5h-1zM245,893h2v1.5h-2zM45,920h1v2h-1zM361,943h2v2h-2zM233,943h1v2h-1zM489,893h1v2h-1zM77,904h1v1h-1zM335,922h1.5v1h-1.5zM317,881h1v2h-1zM127,923h2v1.5h-2zM271,941h1.5v1.5h-1.5zM150,888h1v1h-1zM331,914h1.5v2h-1.5zM262,919h1v1h-1zM297,888h1.5v1h-1.5zM531,902h1v2h-1zM331,938h1.5v1.5h-1.5zM399,917h2v1.5h-2zM50,893h1.5v1.5h-1.5zM400,880h1.5v2h-1.5zM333,925h2v1.5h-2zM410,936h1.5v1h-1.5zM535,897h2v1h-2zM286,892h1.5v1h-1.5zM423,902h2v1h-2zM104,907h1.5v1h-1.5zM468,934h1.5v2h-1.5zM243,901h2v1h-2zM96,894h1v2h-1zM142,909h2v1h-2zM158,875h2v2h-2zM217,915h1v2h-1zM490,939h1v1.5h-1zM512,927h2v1.5h-2zM233,903h2v2h-2zM235,889h1v1.5h-1zM102,903h1v1h-1zM68,908h1v1h-1zM498,916h1v2h-1zM152,899h1.5v1.5h-1.5zM80,936h2v1.5h-2zM281,882h1v2h-1zM203,894h1v2h-1zM25,942h2v1.5h-2zM94,917h1v2h-1zM178,919h1v2h-1zM482,909h1v1.5h-1zM441,911h2v1.5h-2zM366,919h1v1h-1zM467,925h1v1h-1zM300,901h1v1h-1zM451,907h1v2h-1zM348,901h1.5v1.5h-1.5zM57,893h2v1h-2zM200,909h2v1h-2zM279,922h1v2h-1zM79,908h1v1.5h-1zM506,903h1.5v1h-1.5zM457,941h2v1.5h-2zM235,941h1v1h-1zM340,909h1v2h-1zM472,942h1.5v1h-1.5zM317,886h1v2h-1zM373,913h1v1.5h-1zM561,885h1v1h-1zM152,895h1v2h-1zM193,913h1v1h-1zM518,897h2v2h-2zM336,941h2v2h-2zM85,894h2v1h-2zM497,927h2v1h-2zM443,885h1v1.5h-1zM356,885h1v1.5h-1zM391,912h2v1h-2zM503,877h1v1.5h-1zM35,893h2v2h-2zM27,939h1v1.5h-1zM193,942h2v2h-2zM123,897h2v2h-2zM461,909h1v2h-1zM303,938h1.5v2h-1.5zM508,887h2v1h-2zM244,903h1.5v1h-1.5zM385,906h1v2h-1zM180,884h1v2h-1zM370,902h1.5v1h-1.5zM550,887h1v1.5h-1zM504,884h1v1h-1zM405,944h2v1.5h-2zM246,901h1v2h-1zM215,899h2v1.5h-2zM403,902h2v2h-2zM176,941h1v1h-1zM552,879h1.5v1.5h-1.5zM34,932h1.5v1h-1.5zM468,933h1.5v1.5h-1.5zM95,939h2v1.5h-2zM401,882h1v2h-1zM114,937h1.5v1h-1.5zM365,933h1v2h-1zM488,878h1v1.5h-1zM244,939h2v1h-2zM36,928h1v1h-1zM158,888h1.5v2h-1.5zM182,927h1.5v1.5h-1.5zM290,889h1.5v1h-1.5zM22,917h1v2h-1zM276,942h1v2h-1zM467,904h2v2h-2zM476,901h2v1.5h-2zM394,944h1.5v1h-1.5zM475,923h1v1.5h-1zM477,875h1.5v1.5h-1.5zM103,887h2v2h-2zM385,895h1v2h-1zM175,907h1v1.5h-1zM260,895h1.5v2h-1.5zM192,878h1.5v1h-1.5zM210,876h2v1h-2zM276,911h1v1h-1zM293,877h1.5v1h-1.5zM92,919h2v1h-2zM179,919h1v2h-1zM544,932h1v2h-1zM508,928h2v1.5h-2zM437,924h2v1h-2zM170,918h1v1h-1zM471,923h2v2h-2zM251,925h2v1h-2zM518,925h2v1h-2zM471,914h1v1h-1zM29,895h1.5v1h-1.5zM221,907h1v2h-1zM22,918h1v1.5h-1zM159,906h1v2h-1zM530,935h1v2h-1zM304,929h2v1.5h-2zM462,933h1v2h-1zM433,891h2v1.5h-2zM482,879h1.5v1h-1.5zM355,922h1v2h-1zM94,899h1.5v2h-1.5zM328,877h1v1.5h-1zM161,921h1v2h-1zM284,926h1.5v1.5h-1.5zM271,930h2v1h-2zM185,881h2v1h-2zM173,880h2v1.5h-2zM565,899h1v1h-1zM335,886h2v1.5h-2zM542,881h2v1.5h-2zM505,922h1v1.5h-1zM511,907h1v1h-1zM263,897h1v1.5h-1zM203,897h1.5v1h-1.5zM192,899h2v1h-2zM535,886h1v2h-1zM173,901h2v1.5h-2zM213,905h1.5v1h-1.5zM168,879h1.5v2h-1.5zM532,890h1.5v1.5h-1.5zM296,890h1.5v1.5h-1.5zM504,930h2v2h-2zM317,927h1v2h-1zM240,919h1v2h-1zM495,907h2v1h-2zM107,907h1.5v1.5h-1.5zM154,926h1.5v1.5h-1.5zM377,897h2v2h-2zM231,888h1v1h-1zM128,938h2v2h-2zM134,938h2v1.5h-2zM90,896h1v1h-1zM202,882h1v1.5h-1zM156,914h1v2h-1zM496,900h2v1h-2zM222,899h1v1.5h-1zM166,942h1v2h-1zM292,921h1v1h-1zM163,892h2v2h-2zM260,943h1v1h-1zM30,928h2v2h-2zM284,882h2v1.5h-2zM553,889h1v1h-1zM98,915h1v2h-1zM402,934h2v1h-2zM319,879h1v1h-1zM329,879h1.5v1h-1.5zM360,914h2v2h-2zM437,882h1.5v2h-1.5zM537,886h1.5v1h-1.5zM452,874h2v1.5h-2zM566,891h1.5v2h-1.5zM479,890h2v1h-2zM316,879h2v2h-2zM373,880h1v1.5h-1zM504,918h1v1.5h-1zM139,905h1.5v1h-1.5zM286,925h2v1.5h-2zM392,889h1.5v2h-1.5zM482,878h2v1h-2zM185,932h1v1.5h-1zM135,928h1.5v1h-1.5zM541,907h1v1h-1zM282,940h1v2h-1zM93,907h1v1h-1zM554,882h1v2h-1zM45,910h1.5v2h-1.5zM75,891h1v1.5h-1zM118,922h2v2h-2zM272,898h2v1.5h-2zM560,903h1v1h-1zM56,892h2v1h-2zM324,930h2v1.5h-2zM439,896h2v1h-2zM39,915h1.5v2h-1.5zM523,886h1.5v2h-1.5zM511,875h2v1h-2zM463,927h1v1.5h-1zM31,891h1v1.5h-1zM120,883h2v1.5h-2zM214,899h2v1h-2zM158,924h1.5v1.5h-1.5zM177,925h2v2h-2zM538,877h1v1h-1zM276,943h2v1.5h-2zM520,930h1v1.5h-1zM114,932h1.5v2h-1.5zM442,916h1.5v1.5h-1.5zM268,931h2v1h-2zM297,904h1v1h-1zM239,921h2v2h-2zM315,888h2v1h-2zM561,890h1v1h-1zM66,916h2v1h-2zM142,904h2v2h-2zM143,913h1v1.5h-1zM175,914h1.5v1.5h-1.5zM422,889h1v1h-1zM148,886h2v1h-2zM193,903h1v2h-1zM305,922h1v2h-1zM270,879h1v1.5h-1zM503,889h2v1.5h-2zM34,904h1v1h-1zM117,942h2v1h-2zM529,898h1v1.5h-1zM347,931h1v1h-1zM366,926h1.5v1h-1.5zM33,907h1v1h-1zM419,938h1v1.5h-1zM239,902h2v1.5h-2zM55,889h2v2h-2zM281,905h2v2h-2zM318,922h1v2h-1zM103,925h2v1.5h-2zM383,905h1v1.5h-1zM426,936h2v1.5h-2zM22,932h1.5v2h-1.5zM122,926h1v1h-1zM253,887h1v1h-1zM238,937h2v1h-2zM84,888h1v2h-1zM460,901h2v2h-2zM528,924h1v1h-1zM205,887h1v1h-1zM72,915h1v1.5h-1zM82,941h2v1.5h-2zM42,941h2v1h-2zM515,916h1v2h-1zM449,890h2v2h-2zM483,931h1v2h-1zM133,904h2v1h-2zM225,884h1v2h-1zM466,887h2v2h-2zM33,936h1v1.5h-1zM345,915h1.5v2h-1.5zM246,916h2v1.5h-2zM378,907h2v1h-2zM25,923h2v1.5h-2zM143,928h2v1h-2zM463,902h1v1h-1zM211,901h2v2h-2zM296,879h1v1h-1zM525,894h2v1h-2zM42,916h2v2h-2zM541,882h1v2h-1zM419,931h1v1h-1zM558,906h1v2h-1zM450,938h1v1.5h-1zM351,894h1.5v2h-1.5zM165,931h1v1.5h-1zM291,941h1v2h-1zM158,910h1.5v1.5h-1.5zM32,898h1v2h-1zM533,920h2v1h-2zM452,892h2v1h-2zM366,901h2v2h-2zM302,925h1v1.5h-1zM231,931h1.5v1.5h-1.5zM212,928h2v1h-2zM110,928h1v1.5h-1zM468,891h2v2h-2zM510,924h1v1h-1zM95,921h2v1.5h-2zM297,939h1v1.5h-1zM138,921h1v1h-1zM71,907h1v1.5h-1zM336,918h1v1.5h-1zM359,910h1v1h-1zM533,889h1v1.5h-1zM65,924h1.5v1.5h-1.5zM463,941h1v2h-1zM468,936h2v2h-2zM334,919h2v2h-2zM286,888h1v1h-1zM46,889h1v1h-1zM101,939h1v1h-1zM353,923h1v1h-1zM242,912h2v2h-2zM369,933h1v2h-1zM184,896h1v2h-1zM447,924h1v1.5h-1zM482,925h2v1h-2zM424,906h1v1h-1zM157,919h1v1.5h-1zM508,938h1.5v2h-1.5zM41,924h2v2h-2zM450,910h1.5v1.5h-1.5zM369,944h1v1h-1zM501,874h1.5v1h-1.5zM480,888h1v2h-1zM521,886h2v1.5h-2zM346,903h2v1.5h-2zM275,913h1v1h-1zM255,927h2v1.5h-2zM451,901h2v1h-2zM326,889h1v1h-1zM74,922h1v1.5h-1zM29,896h1v2h-1zM50,890h2v1.5h-2zM123,941h2v2h-2zM49,937h2v1h-2zM149,889h1v1h-1zM540,936h1v2h-1zM364,910h1v1h-1zM452,919h1.5v1.5h-1.5zM199,894h1.5v1.5h-1.5zM529,876h1.5v1.5h-1.5zM440,916h2v1.5h-2zM356,878h2v1h-2zM255,930h1.5v1.5h-1.5zM404,912h1v2h-1zM491,880h1.5v1h-1.5zM254,913h1.5v1h-1.5zM14,916h2v2h-2zM455,887h2v2h-2zM205,933h1.5v2h-1.5zM537,892h1v2h-1zM141,887h1v1.5h-1zM450,922h1v2h-1zM194,882h2v2h-2zM60,938h1v1.5h-1zM127,896h2v2h-2zM107,943h1v1.5h-1zM83,920h2v2h-2zM31,921h2v1h-2zM495,905h2v2h-2zM192,907h1.5v2h-1.5zM140,899h1v2h-1zM119,899h2v1h-2zM414,942h1.5v2h-1.5zM302,888h1.5v1h-1.5zM156,941h1v1h-1zM547,879h2v1h-2zM420,905h1v1h-1zM367,884h1v1.5h-1zM270,877h2v2h-2zM136,943h1.5v1.5h-1.5zM24,903h2v1h-2zM424,937h2v2h-2zM331,929h2v1h-2zM383,921h2v1h-2zM390,920h2v1.5h-2zM186,919h1v1.5h-1zM147,903h1v1.5h-1zM484,907h1v2h-1zM489,909h1v2h-1zM194,876h2v1h-2zM33,919h1v2h-1zM447,939h2v1.5h-2zM68,920h2v1h-2zM411,910h1.5v2h-1.5zM203,927h2v1h-2zM563,885h2v1h-2zM417,917h1v1.5h-1zM165,903h1v1h-1zM245,905h1.5v2h-1.5zM159,891h2v2h-2zM552,942h2v1.5h-2zM130,886h1v2h-1zM119,921h1v1h-1zM208,920h2v1.5h-2zM373,931h2v1.5h-2zM448,890h2v2h-2zM153,904h1v1.5h-1zM168,892h1.5v1.5h-1.5zM279,906h1v2h-1zM511,883h1.5v1.5h-1.5zM44,935h1.5v1h-1.5zM307,901h2v1h-2zM377,891h1v2h-1zM175,917h2v1h-2zM487,886h2v1.5h-2zM448,889h2v2h-2zM105,937h2v1h-2zM384,938h1.5v1h-1.5zM287,891h1v2h-1zM479,920h1v2h-1zM78,910h1v1.5h-1zM286,881h2v1h-2zM401,892h1v2h-1zM345,928h1v1.5h-1zM272,916h1.5v1.5h-1.5zM220,905h1v1h-1zM366,921h1v1h-1zM351,925h1.5v1h-1.5zM296,911h1v1h-1zM131,905h1v1.5h-1zM65,925h1.5v1.5h-1.5zM445,913h1v1.5h-1zM254,906h2v1h-2zM472,894h2v1.5h-2zM198,943h2v1.5h-2zM554,918h1v1.5h-1zM119,926h1v2h-1zM553,878h1v1.5h-1zM414,936h2v2h-2zM40,905h1v1h-1zM118,939h2v2h-2zM45,916h2v2h-2zM221,886h2v2h-2zM58,889h2v2h-2zM436,882h1v1h-1zM246,883h1v1.5h-1zM497,883h1.5v2h-1.5zM407,935h1v1.5h-1zM31,889h2v2h-2zM334,941h2v2h-2zM302,935h2v2h-2zM399,903h1v1h-1zM390,917h1v1.5h-1zM440,912h1v2h-1zM275,939h1v1.5h-1zM80,942h1v1h-1zM495,882h1v1.5h-1zM412,892h1v1h-1zM215,927h1v2h-1zM434,895h2v2h-2zM289,923h1.5v1h-1.5zM411,876h1v2h-1zM394,918h2v1.5h-2zM186,917h2v2h-2zM45,909h2v2h-2zM256,923h1v1h-1zM214,920h2v1.5h-2zM226,930h1.5v2h-1.5zM198,895h2v2h-2zM403,932h1.5v2h-1.5zM415,876h1v2h-1zM475,914h1v1.5h-1zM227,902h1v1.5h-1zM170,875h1.5v1.5h-1.5zM247,917h1v1.5h-1zM475,930h2v1h-2zM164,934h2v2h-2zM444,909h2v1h-2zM312,911h2v1h-2zM450,924h1v1.5h-1zM349,924h2v2h-2zM127,895h1v1.5h-1zM268,882h1.5v1h-1.5zM141,915h1.5v2h-1.5zM190,910h1v1h-1zM130,884h1.5v1.5h-1.5zM333,902h2v1h-2zM149,938h2v1.5h-2zM494,899h2v1h-2zM99,919h1.5v1.5h-1.5zM301,878h1v1h-1zM282,916h1.5v1.5h-1.5zM249,942h2v2h-2zM548,890h1v1.5h-1zM124,891h1v1h-1zM40,920h2v1.5h-2zM539,936h1v2h-1zM368,941h1v1.5h-1zM189,891h1v2h-1zM294,889h1v1.5h-1zM549,942h1v1h-1zM33,902h1.5v1h-1.5zM514,936h1v1.5h-1zM449,923h2v1h-2zM68,905h1v1h-1zM388,896h2v1.5h-2zM433,882h1.5v1.5h-1.5zM155,884h2v1.5h-2zM106,897h1v2h-1zM508,906h1v1h-1zM99,934h1v2h-1zM494,935h1v1.5h-1zM545,937h2v1h-2zM361,908h1.5v1.5h-1.5zM470,907h1.5v1h-1.5zM197,926h1v2h-1zM263,938h2v1h-2zM160,903h1v1h-1zM163,933h1.5v1h-1.5zM157,883h2v1.5h-2zM75,943h1v2h-1zM510,920h1v2h-1zM277,896h1.5v1h-1.5zM552,902h1.5v1h-1.5zM526,879h1.5v1.5h-1.5zM510,877h1.5v1h-1.5zM556,873h2v1.5h-2zM296,908h2v1.5h-2zM115,908h2v1h-2zM166,888h1v2h-1zM440,924h1v2h-1zM56,892h2v2h-2zM287,896h1v1h-1zM353,926h1v2h-1zM183,876h2v1.5h-2zM480,937h2v1.5h-2zM198,933h2v1h-2zM21,940h2v1h-2zM497,892h1v2h-1zM474,899h1v2h-1zM218,917h1v1.5h-1zM301,908h2v1h-2zM79,928h1.5v2h-1.5zM495,913h1v1.5h-1zM497,940h2v1.5h-2zM297,914h2v1h-2zM24,943h1v2h-1zM113,887h1.5v2h-1.5zM466,876h1v2h-1zM423,893h2v2h-2zM333,913h2v1h-2zM207,882h1v1h-1zM164,907h2v2h-2zM435,882h1v1.5h-1zM504,911h1v1h-1zM94,918h2v1h-2zM539,873h2v2h-2zM246,934h2v1h-2zM232,941h1.5v1.5h-1.5zM235,934h2v2h-2zM459,937h2v2h-2zM42,917h1.5v1h-1.5zM496,919h1v1.5h-1zM73,897h1.5v1.5h-1.5zM124,922h1v1h-1zM246,904h2v2h-2zM38,944h1v1h-1zM493,916h2v1.5h-2zM361,933h1v2h-1zM68,894h1v1.5h-1zM144,879h1v1.5h-1zM205,887h1v2h-1zM545,937h1.5v1h-1.5zM271,914h1v1.5h-1zM81,893h1.5v1.5h-1.5zM333,896h1v2h-1zM316,936h2v2h-2zM329,922h1v2h-1zM407,907h2v1.5h-2zM353,909h1.5v1h-1.5zM147,891h2v2h-2zM225,916h1v1.5h-1zM102,941h1.5v2h-1.5zM193,894h1v1.5h-1zM44,889h2v1h-2zM349,901h1v2h-1zM228,906h1v2h-1zM137,941h1v1.5h-1zM199,900h1v2h-1zM352,896h2v1h-2zM423,926h2v1.5h-2zM448,923h1v1.5h-1zM496,873h2v2h-2zM77,909h2v1h-2zM244,930h2v2h-2zM74,936h2v1.5h-2zM414,895h2v2h-2zM321,904h1.5v1h-1.5zM450,933h2v1.5h-2zM259,889h1.5v1h-1.5zM254,902h1v1h-1zM469,897h2v1h-2zM545,886h2v1h-2zM26,902h2v1.5h-2zM524,927h2v2h-2zM300,925h2v1.5h-2zM211,917h1.5v1.5h-1.5zM539,920h2v1h-2zM67,908h2v2h-2zM324,917h1v1.5h-1zM283,907h2v2h-2zM203,912h1v1h-1zM214,901h1v1.5h-1zM297,884h1.5v2h-1.5zM203,940h2v1.5h-2zM363,913h2v1h-2zM293,890h1v1h-1zM362,919h1.5v2h-1.5zM36,911h1v1.5h-1zM407,913h1.5v1.5h-1.5zM480,914h1v1h-1zM109,930h2v1.5h-2zM496,936h2v1h-2zM331,906h1v1h-1zM99,929h1v1h-1zM68,896h2v1.5h-2zM470,916h1v2h-1zM19,932h1.5v1h-1.5zM410,900h1v1h-1zM160,882h2v1h-2zM206,907h2v1h-2zM42,939h2v1h-2zM256,919h1v1h-1zM36,941h1v1.5h-1zM265,905h1.5v1.5h-1.5zM557,876h2v2h-2zM411,890h1.5v1.5h-1.5zM499,907h1v1h-1zM108,904h1v1h-1zM552,892h2v1.5h-2zM76,917h2v1.5h-2zM236,881h1v1.5h-1zM471,898h1v1.5h-1zM118,898h1v1.5h-1zM31,926h1.5v1h-1.5zM146,884h1v1.5h-1zM315,932h2v1.5h-2zM272,932h1v1h-1zM217,891h2v1.5h-2zM362,917h1.5v1.5h-1.5zM293,892h2v2h-2zM85,927h1.5v2h-1.5zM512,914h1.5v2h-1.5zM149,917h1v1h-1zM497,882h2v1h-2zM314,896h2v1h-2zM378,916h1.5v1h-1.5zM229,882h1v1h-1zM190,921h1v1h-1zM324,902h2v1.5h-2zM119,926h1v1h-1zM172,931h2v1.5h-2zM210,934h2v2h-2zM503,933h1v1.5h-1zM110,904h1.5v1.5h-1.5zM26,928h2v1h-2zM516,879h1.5v1h-1.5zM163,917h1v2h-1zM389,904h2v1h-2zM251,929h1v1.5h-1zM423,913h1v2h-1zM479,913h2v1.5h-2zM527,919h2v1.5h-2zM532,880h1.5v1h-1.5zM499,914h1v1h-1zM391,878h1.5v1h-1.5zM444,898h1v1.5h-1zM398,903h2v1h-2zM168,881h2v1.5h-2zM529,921h2v2h-2zM42,928h2v2h-2zM297,942h1v1.5h-1zM436,878h2v1.5h-2zM109,891h1v2h-1zM157,941h1v1.5h-1zM205,882h1.5v1h-1.5zM88,927h2v1h-2zM404,876h2v1h-2zM532,897h1.5v1h-1.5zM504,883h2v1h-2zM197,932h2v1.5h-2zM435,886h1v2h-1zM238,890h1.5v1h-1.5zM212,890h1v1.5h-1zM181,883h1.5v1.5h-1.5zM547,883h2v1.5h-2zM328,897h2v1h-2zM37,914h2v1h-2zM427,898h2v1.5h-2zM72,915h2v1.5h-2zM118,915h1v1.5h-1zM523,918h2v2h-2zM375,894h1v1h-1zM89,886h2v1h-2zM177,888h2v2h-2zM106,931h1.5v2h-1.5zM355,903h1.5v1.5h-1.5zM140,886h1.5v1.5h-1.5zM145,879h2v2h-2zM524,943h2v1h-2zM537,907h2v2h-2zM100,901h2v2h-2zM57,927h1v1h-1zM258,944h1v1h-1zM485,907h1v2h-1zM219,878h2v2h-2zM249,896h1v2h-1zM407,937h1v1.5h-1zM110,927h2v1.5h-2zM387,915h2v1h-2zM314,913h2v2h-2zM517,933h2v2h-2zM357,934h1v2h-1zM388,918h1.5v2h-1.5zM330,944h2v2h-2zM372,897h1.5v2h-1.5zM504,875h1v1h-1zM389,907h1v1h-1zM379,902h2v1.5h-2zM212,892h2v1.5h-2zM157,891h1v2h-1zM429,890h1.5v2h-1.5zM65,917h1.5v2h-1.5zM284,915h1v2h-1zM330,884h2v2h-2zM327,937h1v1.5h-1zM87,915h2v2h-2zM478,939h2v1h-2zM268,924h2v1h-2zM550,885h2v1h-2zM88,931h1v1.5h-1zM144,901h1v2h-1zM342,891h1.5v1h-1.5zM405,905h1v2h-1zM562,886h1v2h-1zM496,885h1.5v2h-1.5zM390,933h1v1h-1zM219,927h1.5v2h-1.5zM284,934h1.5v1h-1.5zM210,898h2v1h-2zM31,940h1v1.5h-1zM209,923h1v2h-1zM257,931h2v1h-2zM53,902h1v2h-1zM530,934h2v1h-2zM339,894h1.5v1.5h-1.5zM20,907h1v1.5h-1zM291,938h1v1h-1zM113,933h2v1.5h-2zM481,941h2v1.5h-2zM139,941h2v1h-2zM213,912h1.5v1h-1.5zM340,879h1v1.5h-1zM416,898h2v1.5h-2zM533,894h1.5v2h-1.5zM281,892h1v1.5h-1zM499,916h1v2h-1zM385,895h1.5v1h-1.5zM290,895h2v2h-2zM306,944h1v2h-1zM514,879h1v1.5h-1zM364,921h1.5v1.5h-1.5zM453,891h1v2h-1zM52,943h1.5v2h-1.5zM214,935h1v1.5h-1zM497,923h1.5v1h-1.5zM404,922h2v2h-2zM216,893h1v1.5h-1zM96,896h2v1.5h-2zM260,916h1.5v1h-1.5zM338,887h1.5v1.5h-1.5zM416,913h1.5v1h-1.5zM524,913h1v2h-1zM111,918h2v1.5h-2zM552,921h1v1.5h-1zM190,887h1.5v2h-1.5zM25,897h1.5v1h-1.5zM404,890h2v1.5h-2zM123,918h2v2h-2zM67,901h1v1h-1zM346,882h2v1.5h-2zM412,876h1.5v2h-1.5zM369,877h1.5v1h-1.5zM130,899h1v2h-1zM282,919h1.5v1h-1.5zM44,911h1v1h-1zM360,900h2v2h-2zM234,941h1v1h-1zM526,912h1.5v1h-1.5zM243,925h1.5v1h-1.5zM64,896h1v2h-1zM439,881h1.5v1.5h-1.5zM203,922h2v1h-2zM377,918h1.5v1h-1.5zM424,893h2v1h-2zM443,896h2v2h-2zM264,896h2v2h-2zM535,881h1v2h-1zM277,922h1.5v1h-1.5zM562,888h1v1h-1zM359,885h2v2h-2zM126,929h1.5v2h-1.5zM215,886h1v2h-1zM488,928h2v1h-2zM207,925h2v1.5h-2zM131,938h2v1.5h-2zM130,930h1v1h-1zM379,877h2v2h-2zM492,877h2v1.5h-2zM240,940h1v1h-1zM152,893h2v1h-2zM141,890h2v2h-2zM167,936h2v1h-2zM277,942h1.5v1h-1.5zM469,893h1.5v1h-1.5zM282,939h1v1.5h-1zM392,917h2v1h-2zM334,939h1v2h-1zM212,929h2v1h-2zM254,886h1.5v2h-1.5zM26,894h1v1h-1zM519,883h1.5v1h-1.5zM430,907h2v1h-2zM242,921h2v1.5h-2zM557,874h1v1h-1zM452,922h1v1h-1zM293,893h2v2h-2zM70,888h1.5v1h-1.5zM500,881h2v1h-2zM304,877h1v2h-1zM312,921h2v2h-2zM479,940h1v1.5h-1zM552,932h1v2h-1zM52,928h1v1.5h-1zM162,941h1v2h-1zM39,933h1.5v1.5h-1.5zM18,927h2v2h-2zM169,898h2v2h-2zM411,903h1.5v2h-1.5zM245,943h2v1.5h-2zM502,929h1v1h-1zM350,942h1.5v2h-1.5zM352,903h1v1h-1zM381,882h2v1h-2zM517,876h2v1.5h-2zM393,906h1.5v1.5h-1.5zM552,872h2v2h-2zM202,913h2v1h-2zM471,929h2v1.5h-2zM408,902h2v1.5h-2zM353,924h1.5v1h-1.5zM362,915h1v2h-1zM438,893h2v2h-2zM205,916h2v1h-2zM433,900h1v2h-1zM106,904h1v1h-1zM469,906h1v1.5h-1zM224,933h2v1h-2zM240,925h2v1h-2zM215,921h2v2h-2zM180,921h1.5v1.5h-1.5zM174,906h1v1.5h-1zM365,928h1v2h-1zM95,925h1.5v1.5h-1.5zM302,893h1.5v2h-1.5zM201,902h1v2h-1zM124,916h1v2h-1zM111,926h1.5v1.5h-1.5zM154,893h2v1h-2zM304,911h1v1h-1zM83,942h1.5v2h-1.5zM446,938h2v1.5h-2zM216,925h1.5v1.5h-1.5zM252,918h1.5v1.5h-1.5zM145,934h1v2h-1zM119,942h2v1.5h-2zM47,899h1v1h-1zM432,901h2v1.5h-2zM288,940h1v1h-1zM342,909h2v2h-2zM479,902h2v1h-2zM507,904h2v1h-2zM297,934h1v2h-1zM123,914h1.5v2h-1.5zM196,902h2v1h-2zM62,936h2v1h-2zM69,892h1v2h-1zM265,934h1v2h-1zM199,935h2v2h-2zM428,933h1v1.5h-1zM466,934h1v1.5h-1zM198,911h1v1h-1zM562,891h1.5v1h-1.5zM186,893h1.5v2h-1.5zM231,937h1v1.5h-1zM181,935h2v2h-2zM155,889h1v1h-1zM310,903h2v2h-2zM284,917h1.5v1.5h-1.5zM123,939h2v2h-2zM40,906h2v1h-2zM239,915h1.5v1h-1.5zM164,930h1.5v1h-1.5zM407,931h2v2h-2zM265,941h2v1h-2zM500,877h2v2h-2zM81,893h1v2h-1zM288,877h2v2h-2zM457,909h1.5v1h-1.5zM309,888h1v2h-1zM68,892h1v1h-1zM243,922h1.5v2h-1.5zM516,921h1v1h-1zM526,882h1v1.5h-1zM175,891h2v1.5h-2zM405,925h1.5v1.5h-1.5zM192,933h1v2h-1zM557,899h1v1.5h-1zM223,920h1v2h-1zM315,883h2v1h-2zM417,905h2v1h-2zM34,908h1v2h-1zM534,909h1.5v1.5h-1.5zM205,927h2v1h-2zM123,897h1.5v2h-1.5zM337,930h1v1h-1zM274,930h1v2h-1zM526,875h2v1h-2zM550,896h1v2h-1zM179,887h1.5v1.5h-1.5zM279,899h1.5v1h-1.5zM73,935h1v2h-1zM323,883h2v1h-2zM450,915h2v1h-2zM31,917h1v1.5h-1zM372,885h2v1.5h-2zM54,929h1v1.5h-1zM106,940h1.5v1h-1.5zM480,934h2v1.5h-2zM95,889h1v1h-1zM97,900h2v1h-2zM192,892h2v2h-2zM35,902h1v1.5h-1zM236,890h1v1h-1zM416,912h1v1h-1zM20,942h2v2h-2zM329,925h1v1h-1zM429,885h1.5v1h-1.5zM248,919h1v1.5h-1zM329,885h2v1h-2zM142,916h2v2h-2zM467,931h1v2h-1zM200,882h1v2h-1zM442,887h1.5v1.5h-1.5zM59,931h2v1h-2zM241,904h1v1h-1zM94,915h1v1h-1zM455,927h1v1h-1zM526,921h1v1h-1zM452,907h2v2h-2zM445,937h2v2h-2zM47,937h1v1.5h-1zM449,881h1.5v2h-1.5zM102,942h2v1h-2zM156,923h1.5v1h-1.5zM426,932h2v1h-2zM254,933h2v1.5h-2zM428,916h1v1h-1zM550,928h1.5v1h-1.5zM145,916h2v1h-2zM500,913h1v1.5h-1zM381,903h1.5v1.5h-1.5zM238,882h1.5v2h-1.5zM343,936h1.5v1h-1.5zM179,917h1v1.5h-1zM245,918h2v1h-2zM198,890h1.5v1.5h-1.5zM482,917h1.5v1.5h-1.5zM61,903h2v1.5h-2zM380,932h1v1h-1zM392,879h1v1.5h-1zM163,941h1.5v1h-1.5zM137,936h2v1.5h-2zM184,897h2v2h-2zM117,933h1v1.5h-1zM305,877h1v1h-1zM537,904h1.5v2h-1.5zM208,883h2v2h-2zM491,909h2v1h-2zM528,935h2v1h-2zM298,900h1.5v1.5h-1.5zM213,921h2v2h-2zM462,878h2v1.5h-2zM214,943h1v2h-1zM78,908h1.5v2h-1.5zM507,924h2v1h-2zM539,906h1v1.5h-1zM92,919h2v2h-2zM38,910h2v2h-2zM146,928h1v1.5h-1zM317,905h1v2h-1zM368,911h1.5v2h-1.5zM514,895h2v1.5h-2zM471,929h1.5v1h-1.5zM124,931h1v1h-1zM183,911h1.5v1h-1.5zM339,945h1.5v2h-1.5zM116,900h2v1h-2zM357,942h2v1h-2zM391,901h1.5v1.5h-1.5zM453,907h1v1h-1zM527,916h2v1.5h-2zM366,931h1.5v1h-1.5zM97,929h2v2h-2zM323,924h1v1.5h-1zM230,925h2v2h-2zM463,933h1v1.5h-1zM262,877h2v2h-2zM327,901h1.5v1.5h-1.5zM499,880h2v2h-2zM473,932h1v1.5h-1zM104,893h1v1.5h-1zM231,941h1.5v1.5h-1.5zM230,932h1.5v1h-1.5zM408,885h2v1.5h-2zM384,939h1v1h-1zM200,880h2v1h-2zM291,936h1v2h-1zM252,891h1.5v2h-1.5zM450,932h1v1h-1zM385,928h2v1h-2zM511,936h2v1.5h-2zM85,927h2v2h-2zM510,923h2v2h-2zM470,893h1v1h-1zM184,900h2v1h-2zM212,924h1v1h-1zM478,896h1v1.5h-1zM362,886h1.5v2h-1.5zM45,913h2v2h-2zM461,877h2v1h-2zM281,897h1.5v1.5h-1.5zM307,893h2v1h-2zM169,942h2v2h-2zM408,891h1v1h-1zM463,893h1.5v1h-1.5zM543,891h1v2h-1zM74,909h2v1.5h-2zM138,935h1v1.5h-1zM547,895h1.5v1h-1.5zM369,917h2v1.5h-2zM551,934h2v1.5h-2zM118,919h1v1.5h-1zM104,929h1v2h-1zM511,874h1v2h-1zM425,928h1v2h-1zM432,932h1.5v2h-1.5zM449,876h2v2h-2zM21,908h2v1h-2zM477,918h2v1.5h-2zM322,921h2v2h-2zM188,900h1v1h-1zM423,922h2v1h-2zM459,906h1v1.5h-1zM71,895h2v1.5h-2zM454,907h1v1h-1zM306,894h2v1h-2zM209,921h1v2h-1zM167,931h2v1.5h-2zM443,924h1v1.5h-1zM86,885h1v2h-1zM337,903h1v1h-1zM270,879h2v2h-2zM520,933h1.5v2h-1.5zM323,909h1v1h-1zM147,937h2v1h-2zM67,938h1v1.5h-1zM266,917h2v1h-2zM329,927h2v1h-2zM235,923h1v2h-1zM373,925h2v2h-2zM91,939h2v1.5h-2zM47,901h1v1h-1zM230,930h1v2h-1zM423,920h1v1h-1zM517,887h1v1h-1zM271,904h1v2h-1zM37,920h2v1.5h-2zM158,886h1v1.5h-1zM433,882h1v1h-1zM92,916h2v2h-2zM192,910h2v1h-2zM52,889h1v2h-1zM324,920h2v1h-2zM404,921h2v1.5h-2zM266,923h2v2h-2zM128,891h2v1.5h-2zM128,925h1v2h-1zM251,884h1v2h-1zM301,924h1v2h-1zM145,936h1v1h-1zM216,897h1.5v1h-1.5zM287,917h1.5v1h-1.5zM75,926h2v1h-2zM301,909h2v2h-2zM331,891h1v1h-1zM477,923h1v2h-1zM391,935h2v1h-2zM112,940h2v1.5h-2zM405,893h1.5v1.5h-1.5zM28,910h1v1.5h-1zM103,941h2v2h-2zM477,943h1.5v1.5h-1.5zM459,875h2v1h-2zM201,913h1.5v1.5h-1.5zM145,899h1v2h-1zM102,884h1.5v1.5h-1.5zM361,902h2v1h-2zM549,883h2v1h-2zM373,914h2v2h-2zM396,943h1v2h-1zM130,897h1v2h-1zM157,924h1v2h-1zM256,924h1.5v1.5h-1.5zM150,893h1v1h-1zM396,890h1.5v2h-1.5zM548,917h2v1h-2zM377,918h2v1.5h-2zM55,929h2v1h-2zM53,892h2v1h-2zM414,920h2v2h-2zM500,937h2v1h-2zM512,891h2v1.5h-2zM399,887h1v1.5h-1zM202,933h1v1.5h-1zM473,889h1v1.5h-1zM385,895h1v1h-1zM52,892h2v1.5h-2zM380,888h1v1.5h-1zM66,944h2v1.5h-2zM375,916h1v1h-1zM48,888h1v1.5h-1zM214,926h1v1.5h-1zM450,892h1.5v1h-1.5zM303,884h1v1h-1zM171,901h1v1h-1zM373,938h2v1.5h-2zM146,937h1.5v1h-1.5zM40,926h1.5v1h-1.5zM169,908h2v1h-2zM73,919h2v1h-2zM237,910h1v1h-1zM249,880h1v1h-1zM160,906h1v1.5h-1zM320,882h1v1.5h-1zM426,914h2v1h-2zM45,912h1v1h-1zM302,912h1.5v1h-1.5zM68,914h2v1.5h-2zM448,883h2v2h-2zM189,890h1.5v1h-1.5zM79,944h2v1.5h-2zM112,881h2v1h-2zM370,924h1v2h-1zM373,930h2v1h-2zM374,886h1.5v2h-1.5zM35,937h1v2h-1zM138,917h1v1.5h-1zM133,880h2v1h-2zM479,895h1.5v2h-1.5zM123,883h1v2h-1zM104,904h2v1h-2zM49,909h2v2h-2zM132,933h1v1.5h-1zM138,941h1.5v1h-1.5zM238,900h1v2h-1zM220,887h1v1h-1zM350,895h2v1.5h-2zM324,927h1v1.5h-1zM146,884h2v1h-2zM518,943h1v2h-1zM191,927h1v1h-1zM247,882h2v1.5h-2zM153,914h1v1h-1zM544,891h2v1h-2zM41,940h1v1h-1zM515,878h1v1h-1zM246,913h1.5v2h-1.5zM375,912h1v1.5h-1zM148,920h2v2h-2zM457,936h2v1h-2zM254,917h1.5v2h-1.5zM224,935h1.5v2h-1.5zM144,901h2v1.5h-2zM389,881h1v2h-1zM391,890h1.5v1h-1.5zM259,900h1v1.5h-1zM545,927h1v1.5h-1zM61,943h2v1.5h-2zM235,885h1v1.5h-1zM421,900h2v1.5h-2zM83,898h1v1.5h-1zM75,916h2v2h-2zM246,882h2v1.5h-2zM536,913h1.5v1.5h-1.5zM404,906h1v1.5h-1zM397,922h1v1.5h-1zM218,942h1.5v2h-1.5zM369,921h2v1h-2zM217,934h1.5v1h-1.5zM469,915h2v1h-2zM122,880h2v1.5h-2zM415,894h1v1h-1zM477,880h1v1h-1zM109,892h1v1h-1zM25,892h1v1h-1zM95,904h2v1.5h-2zM190,904h2v1.5h-2zM197,939h1.5v1h-1.5zM160,879h1v2h-1zM553,881h1.5v1.5h-1.5zM291,886h2v2h-2zM460,926h2v1.5h-2zM176,876h1.5v1h-1.5zM458,881h2v1h-2zM118,925h2v1h-2zM358,935h2v2h-2zM254,877h2v1h-2zM72,923h1v1.5h-1zM291,913h1.5v2h-1.5zM44,901h1v1h-1zM297,891h2v2h-2zM119,891h1.5v2h-1.5zM512,882h1v1h-1zM269,900h1.5v1.5h-1.5zM187,925h1v2h-1zM187,896h1.5v2h-1.5zM143,888h1v1.5h-1zM29,906h2v2h-2zM302,902h2v2h-2zM185,880h1v2h-1zM227,909h1.5v2h-1.5zM298,908h2v2h-2zM245,925h2v1.5h-2zM446,924h1.5v2h-1.5zM40,932h1v2h-1zM525,882h2v1h-2zM47,927h1v1.5h-1zM378,936h1.5v1.5h-1.5zM301,887h1v2h-1zM548,875h1.5v2h-1.5zM87,891h1v1.5h-1zM103,915h2v1h-2zM145,902h2v2h-2zM200,884h1v1.5h-1zM552,880h1.5v2h-1.5zM535,923h2v1.5h-2zM138,889h1.5v1.5h-1.5zM231,890h1v2h-1zM120,941h1v2h-1zM200,893h1.5v2h-1.5zM273,945h1v2h-1zM191,887h1.5v2h-1.5zM116,907h1v1h-1zM332,877h1.5v2h-1.5zM34,890h1.5v1h-1.5zM484,930h1.5v1.5h-1.5zM180,918h2v1.5h-2zM170,940h1v2h-1zM240,920h2v1h-2zM466,918h1v2h-1zM107,891h1.5v1.5h-1.5zM293,899h2v1.5h-2zM86,917h1.5v2h-1.5zM468,898h1v1.5h-1zM501,883h2v2h-2zM519,928h2v1.5h-2zM538,905h2v2h-2zM496,888h1.5v1.5h-1.5zM151,882h1.5v1h-1.5zM514,874h1.5v1h-1.5zM354,912h1v1h-1zM490,918h1.5v1.5h-1.5zM542,894h2v1.5h-2zM189,899h1.5v2h-1.5zM498,913h1v2h-1zM339,935h2v1h-2zM281,906h1v1h-1zM128,914h1v2h-1zM520,875h2v2h-2zM252,926h2v1h-2zM114,899h2v2h-2zM210,891h2v1h-2zM134,936h2v1h-2zM224,925h2v1h-2zM194,944h2v2h-2zM553,907h2v1h-2zM384,886h2v2h-2zM512,884h1v2h-1zM319,930h2v1.5h-2zM42,891h2v1h-2zM513,932h1v2h-1zM269,887h1v1h-1zM97,910h1v1.5h-1zM88,926h2v1.5h-2zM142,891h2v1h-2zM63,887h1.5v2h-1.5zM104,931h2v1.5h-2zM141,932h1v2h-1zM109,936h2v2h-2zM413,927h2v2h-2zM132,933h2v2h-2zM41,942h2v1h-2zM495,936h2v2h-2zM243,898h1v2h-1zM132,914h2v2h-2zM148,889h1v1.5h-1zM210,906h1.5v1h-1.5zM365,908h1v1h-1zM340,885h1.5v1h-1.5zM244,934h2v1.5h-2zM275,896h2v1h-2zM274,912h2v1h-2zM142,900h2v1h-2zM236,901h2v1.5h-2zM208,923h2v2h-2zM97,936h2v2h-2zM417,899h2v1.5h-2zM357,887h1v2h-1zM93,906h2v1.5h-2zM340,924h1.5v1h-1.5zM317,905h1v1.5h-1zM76,938h1v2h-1zM192,908h2v1.5h-2zM214,937h1.5v2h-1.5zM308,942h2v1h-2zM197,902h2v2h-2zM449,892h1.5v1.5h-1.5zM49,934h2v1h-2zM165,898h2v1h-2zM534,899h1v1h-1zM129,927h1v1h-1zM185,890h2v1.5h-2zM80,943h1v1h-1zM318,942h1v1h-1zM253,890h2v2h-2zM226,882h1v2h-1zM82,903h1v1h-1zM101,885h1.5v2h-1.5zM398,887h2v1h-2zM72,898h1.5v2h-1.5zM535,886h1v1.5h-1zM193,904h2v1h-2zM281,878h1v1h-1zM112,890h1.5v2h-1.5zM422,879h2v2h-2zM390,878h2v2h-2zM452,914h2v1.5h-2zM502,915h1.5v2h-1.5zM232,941h1v2h-1zM299,911h2v1h-2zM396,876h2v1h-2zM482,899h1v2h-1zM224,922h1.5v1.5h-1.5zM543,938h2v1h-2zM188,901h1.5v1h-1.5zM452,929h1v2h-1zM395,898h2v1.5h-2zM457,897h2v2h-2zM284,896h1v1.5h-1zM529,926h1v1.5h-1zM435,914h1.5v2h-1.5zM294,926h1v1h-1zM339,886h2v1.5h-2zM499,915h2v1.5h-2zM503,930h1v2h-1zM262,902h1v1.5h-1zM476,894h1v2h-1zM156,929h1v2h-1zM536,942h2v2h-2zM397,920h1.5v1.5h-1.5zM370,898h2v1h-2zM38,936h1.5v1h-1.5zM347,938h1v1.5h-1zM366,903h1v1.5h-1zM465,876h2v1h-2zM60,936h1v1h-1zM270,909h1v2h-1zM174,933h2v1h-2zM544,918h1v2h-1zM115,912h1.5v1h-1.5zM103,940h2v1h-2zM151,938h1v1h-1zM516,916h1v2h-1zM225,919h2v1h-2zM67,940h1.5v2h-1.5zM46,909h2v1.5h-2zM470,940h1.5v1h-1.5zM301,885h1.5v1.5h-1.5zM507,937h2v1.5h-2zM286,895h1.5v1h-1.5zM320,930h2v1.5h-2zM102,937h1.5v1.5h-1.5zM546,941h1v1.5h-1zM336,945h2v2h-2zM316,899h1v1.5h-1zM126,887h1.5v1.5h-1.5zM362,916h1.5v1.5h-1.5zM540,917h2v2h-2zM384,901h2v1h-2zM179,942h1v2h-1zM553,876h1v1h-1zM320,891h2v2h-2zM78,935h1v2h-1zM171,882h1v2h-1zM335,924h1.5v1h-1.5zM554,878h1.5v1.5h-1.5zM510,921h2v1.5h-2zM207,925h2v1h-2zM19,899h1v1h-1zM69,941h1.5v2h-1.5zM502,909h1.5v2h-1.5zM549,900h1v1h-1zM344,926h2v1h-2zM473,936h2v1h-2zM250,937h1v1h-1zM359,922h1v1.5h-1zM416,913h1.5v1.5h-1.5zM154,885h1v1h-1zM95,919h1v1h-1zM184,914h1v2h-1zM288,909h1v2h-1zM44,912h1v1h-1zM147,932h1v1h-1zM476,914h2v1.5h-2zM277,879h1v1.5h-1zM561,888h1v2h-1zM526,886h1.5v1h-1.5zM442,926h1.5v2h-1.5zM56,931h1v2h-1zM445,905h1v1h-1zM182,898h1v2h-1zM298,942h2v1h-2zM289,946h1v2h-1zM451,894h1v1.5h-1zM39,917h1v2h-1zM237,892h1v1.5h-1zM156,906h1v1.5h-1zM14,901h2v1h-2zM122,885h1.5v1.5h-1.5zM198,894h1.5v1h-1.5zM33,912h2v1h-2zM99,887h2v1h-2zM68,916h2v1.5h-2zM120,923h2v2h-2zM462,894h2v1.5h-2zM83,889h2v1h-2zM379,878h1v2h-1zM451,929h1v1h-1zM458,891h1v2h-1zM539,891h1v2h-1zM473,902h1.5v1h-1.5zM556,903h1v1h-1zM63,929h1v2h-1zM516,919h1.5v2h-1.5zM77,933h1v2h-1zM135,887h1.5v1h-1.5zM498,943h1.5v2h-1.5zM449,934h2v1.5h-2zM551,917h2v2h-2zM121,913h2v2h-2zM200,901h2v2h-2zM339,892h1.5v2h-1.5zM292,912h2v1.5h-2zM381,889h2v1.5h-2zM165,928h2v1.5h-2zM300,894h2v2h-2zM221,896h2v2h-2zM30,902h1.5v2h-1.5zM391,926h1.5v2h-1.5zM182,900h1.5v2h-1.5zM376,934h2v2h-2zM421,893h1.5v2h-1.5zM21,919h1.5v1.5h-1.5zM240,906h2v2h-2zM507,934h1.5v1h-1.5zM201,908h1v1.5h-1zM69,898h2v1h-2zM408,937h2v1.5h-2zM172,886h1v2h-1zM114,890h1.5v1h-1.5zM525,932h1.5v1h-1.5zM486,935h2v1.5h-2zM119,929h1.5v2h-1.5zM78,939h2v2h-2zM233,917h1.5v1h-1.5zM230,889h1v2h-1zM219,928h1.5v1h-1.5zM390,919h1v1h-1zM23,926h2v1h-2zM175,889h1v1h-1zM274,930h1.5v1h-1.5zM32,906h2v1h-2zM296,885h1v1.5h-1zM185,904h1.5v1h-1.5zM514,881h2v1h-2zM376,906h1.5v2h-1.5zM146,919h2v2h-2zM463,893h2v1.5h-2zM561,875h2v1.5h-2zM139,919h2v1.5h-2zM317,904h1v1.5h-1zM434,926h1v1.5h-1zM269,891h1v1h-1zM64,892h1.5v1h-1.5zM253,911h1.5v2h-1.5zM205,901h1v1h-1zM296,911h1.5v1.5h-1.5zM491,888h2v1.5h-2zM483,915h2v2h-2zM164,927h2v2h-2zM217,884h2v2h-2zM194,898h1v1.5h-1zM102,884h1.5v1h-1.5zM236,887h1v2h-1zM308,902h1.5v1h-1.5zM108,926h1v1.5h-1zM465,878h2v1h-2zM505,895h2v2h-2zM35,919h1v2h-1zM108,922h1v1.5h-1zM463,909h2v1h-2zM378,937h1.5v2h-1.5zM309,927h2v1h-2zM87,903h1v2h-1zM553,927h2v1h-2zM386,928h1.5v2h-1.5zM82,936h2v1.5h-2zM318,888h1v2h-1zM532,878h2v1h-2zM341,925h2v2h-2zM94,933h1v1h-1zM516,939h1v1h-1zM356,892h1v2h-1zM264,893h1v1h-1zM187,919h2v1h-2zM85,907h1v1h-1zM359,885h1v2h-1zM175,894h1v1h-1zM562,903h1.5v2h-1.5zM527,929h1.5v1h-1.5zM183,941h2v1.5h-2zM352,937h1v1.5h-1zM401,907h2v1h-2zM534,888h1.5v2h-1.5zM542,908h1v2h-1zM182,878h1v1h-1zM257,931h2v2h-2zM205,909h2v2h-2zM455,923h2v1h-2zM101,913h2v1h-2zM304,887h1v1.5h-1zM552,887h1v2h-1zM414,899h1v1.5h-1zM165,919h2v1.5h-2zM222,916h1v1.5h-1zM255,876h1.5v1.5h-1.5zM453,884h2v2h-2zM325,940h1v1.5h-1zM386,882h2v1.5h-2zM255,923h2v1h-2zM483,884h1v2h-1zM511,895h2v1.5h-2zM166,882h2v1h-2zM102,919h1v1.5h-1zM371,910h1v1h-1zM259,938h2v1h-2zM311,892h1.5v2h-1.5zM416,891h2v1h-2zM372,902h2v1h-2zM557,883h1.5v1h-1.5zM152,931h1v1h-1zM478,934h1v1h-1zM150,881h1.5v1h-1.5zM158,888h1v1.5h-1zM522,888h1v2h-1zM242,928h1v1h-1zM195,883h2v1h-2zM566,886h1v1.5h-1zM433,903h2v1.5h-2zM136,905h2v2h-2zM428,921h2v2h-2zM474,907h1v1.5h-1zM516,930h1v2h-1zM39,900h2v1h-2zM78,926h2v1h-2zM19,924h1v1h-1zM273,886h1.5v1.5h-1.5zM408,925h1v1h-1zM369,922h1.5v1h-1.5zM224,926h2v2h-2zM141,881h1v2h-1zM56,890h1.5v1.5h-1.5zM454,922h1v1h-1zM63,924h1.5v1h-1.5zM445,938h1v2h-1zM232,911h2v1h-2zM77,913h2v1.5h-2zM225,906h1v1.5h-1zM551,895h2v1.5h-2zM301,916h1v2h-1zM35,913h1v1h-1zM257,929h1.5v1.5h-1.5zM97,915h2v1h-2zM534,935h1v1h-1zM324,906h1v2h-1zM259,940h1.5v2h-1.5zM257,929h1v1h-1zM237,911h1v1.5h-1zM214,931h1v1h-1zM27,917h1v1h-1zM319,919h1v1h-1zM173,942h2v1.5h-2zM338,899h1v2h-1zM425,882h2v1.5h-2zM344,938h1v1.5h-1zM48,927h2v2h-2zM492,920h1.5v1h-1.5zM331,878h2v2h-2zM193,913h2v1h-2zM64,917h1.5v1h-1.5zM217,898h2v1.5h-2zM412,901h2v2h-2zM164,943h1v1.5h-1zM536,890h2v1h-2zM87,917h1v2h-1zM20,903h1v1.5h-1zM156,917h1v1.5h-1zM269,926h1v1.5h-1zM379,883h2v2h-2zM373,924h1v1h-1zM545,900h2v1h-2zM220,924h1.5v1.5h-1.5zM378,904h2v1h-2zM229,886h2v1.5h-2zM564,905h1v1h-1zM392,881h2v1h-2zM475,935h1.5v1.5h-1.5zM276,898h1.5v1h-1.5zM482,920h1v1h-1zM99,918h1v1.5h-1zM199,883h1v1h-1zM411,891h1.5v1.5h-1.5zM180,894h2v1h-2zM540,888h2v1h-2zM257,920h1v1h-1zM546,888h1.5v1h-1.5zM26,893h2v2h-2zM383,882h2v1.5h-2zM130,882h2v1h-2zM505,882h2v1h-2zM362,918h2v2h-2zM93,908h2v1.5h-2zM160,903h1v1h-1zM406,915h1.5v2h-1.5zM253,890h1.5v2h-1.5zM392,879h2v1.5h-2zM294,879h1.5v2h-1.5zM425,940h1.5v2h-1.5zM164,905h2v1.5h-2zM262,909h2v1.5h-2zM524,921h1v1h-1zM150,922h1v1h-1zM87,914h1.5v1h-1.5zM540,942h2v1.5h-2zM453,918h1v1h-1zM109,886h2v1h-2zM22,915h2v2h-2zM543,901h1v1h-1zM338,893h1.5v2h-1.5zM285,904h2v1h-2zM192,917h2v1h-2zM135,943h1v1h-1zM480,933h2v2h-2zM286,903h1v2h-1zM222,898h2v2h-2zM157,918h1v1.5h-1zM314,903h2v1h-2zM237,883h2v2h-2zM345,884h2v1.5h-2zM496,942h1.5v1h-1.5zM349,906h2v1.5h-2zM384,876h2v1h-2zM207,908h1v1.5h-1zM362,919h1v1.5h-1zM183,891h2v1.5h-2zM520,912h1v1.5h-1zM268,915h2v1h-2zM359,910h2v1h-2zM404,941h1v1h-1zM190,936h1v1h-1zM29,925h1.5v1h-1.5zM419,933h2v2h-2zM440,917h1v1h-1zM149,911h2v1.5h-2zM97,910h2v1.5h-2zM532,874h1.5v1.5h-1.5zM41,895h1v1.5h-1zM476,921h1v1.5h-1zM195,886h1v1.5h-1zM313,879h1v1.5h-1zM294,887h1v1h-1zM505,884h1.5v1h-1.5zM514,876h1.5v1h-1.5zM511,885h2v2h-2zM302,933h1.5v1h-1.5zM524,894h2v2h-2zM93,925h2v1.5h-2zM460,916h1v1h-1zM354,903h1v1h-1zM398,877h1v1h-1zM445,927h1.5v1.5h-1.5zM67,903h2v2h-2zM101,889h1.5v1.5h-1.5zM501,884h1v1h-1zM63,925h1v1h-1zM149,921h2v2h-2zM262,878h1.5v1h-1.5zM147,929h1.5v1.5h-1.5zM308,926h1v1.5h-1zM49,911h1.5v2h-1.5zM77,911h2v1.5h-2zM116,936h2v1.5h-2zM223,939h1v1.5h-1zM47,913h2v1.5h-2zM287,904h1v2h-1zM402,920h2v1.5h-2zM118,880h2v1.5h-2zM221,884h1v1.5h-1zM379,897h2v1h-2zM172,906h2v1.5h-2zM519,936h2v1.5h-2zM352,920h1v1.5h-1zM368,938h2v2h-2zM483,930h1.5v1h-1.5zM249,878h2v2h-2zM121,931h1v1h-1zM366,946h1.5v1.5h-1.5zM125,903h2v2h-2zM253,903h1v1h-1zM184,883h2v1.5h-2zM380,916h1v1h-1zM534,914h2v1.5h-2zM195,902h2v2h-2zM260,944h2v2h-2zM127,882h1v1h-1zM204,929h1v1h-1zM289,897h2v1.5h-2zM308,880h1v1h-1zM383,924h2v1h-2zM523,930h1.5v1.5h-1.5zM49,919h2v1h-2zM81,890h1.5v1h-1.5zM491,901h1.5v1.5h-1.5zM260,892h1v1.5h-1zM113,932h2v2h-2zM513,926h1v2h-1zM409,931h2v1h-2zM118,942h1.5v2h-1.5zM143,931h2v1.5h-2zM225,919h1.5v1h-1.5zM17,928h2v2h-2zM412,896h1v2h-1zM404,896h1.5v2h-1.5zM435,914h2v1h-2zM561,872h1v2h-1zM315,904h1.5v1.5h-1.5zM128,930h2v2h-2zM432,908h1v1.5h-1zM441,890h2v1h-2zM399,896h1v2h-1zM433,930h2v2h-2zM482,893h2v2h-2zM114,938h1.5v1.5h-1.5zM203,882h1.5v2h-1.5zM119,889h2v2h-2zM171,901h2v1h-2zM548,893h2v1.5h-2zM162,936h1.5v2h-1.5zM389,940h1.5v1.5h-1.5zM378,944h1v1h-1zM196,898h1v1.5h-1zM158,899h1.5v1.5h-1.5zM20,939h1.5v1h-1.5zM130,886h1.5v1.5h-1.5zM78,896h1.5v1h-1.5zM334,908h1.5v1.5h-1.5zM304,931h1v1.5h-1zM246,919h1.5v2h-1.5zM113,912h1v1h-1zM504,915h1v1h-1zM527,935h1v1h-1zM402,892h2v2h-2zM476,898h2v1.5h-2zM382,889h1v1.5h-1zM300,910h1v2h-1zM203,882h1.5v1h-1.5zM282,912h1v2h-1zM66,923h2v1h-2zM181,915h1.5v1.5h-1.5zM56,915h2v1h-2zM544,896h2v1.5h-2zM123,914h1v2h-1zM484,927h1v2h-1zM437,898h1v1h-1zM118,916h1.5v1.5h-1.5zM393,904h2v1h-2zM177,918h2v1.5h-2zM162,899h2v1h-2zM116,891h1v1.5h-1zM389,905h1v2h-1zM58,928h1v2h-1zM82,916h2v1.5h-2zM535,919h1.5v1.5h-1.5zM521,901h2v1.5h-2zM306,896h2v1h-2zM423,889h1v1h-1zM511,919h2v1.5h-2zM85,909h1v1.5h-1zM245,880h1v1.5h-1zM542,931h1v1.5h-1zM399,910h2v1h-2zM93,915h1v2h-1zM499,902h1.5v1h-1.5zM145,907h1.5v2h-1.5zM66,936h2v2h-2zM114,913h1v1h-1zM63,900h1v1h-1zM38,898h1v1.5h-1zM281,938h1v1.5h-1zM180,925h1v1h-1zM320,919h2v1h-2zM36,920h1v1.5h-1zM556,880h1v1.5h-1zM71,928h1.5v2h-1.5zM301,943h2v2h-2zM94,925h1v2h-1zM162,876h2v1.5h-2zM330,886h2v2h-2zM246,906h2v2h-2zM213,903h2v1.5h-2zM219,943h1v1.5h-1zM21,929h2v1.5h-2zM262,917h1.5v1h-1.5zM145,877h1v2h-1zM171,907h1.5v1h-1.5zM517,889h1v1.5h-1zM154,923h2v1.5h-2zM227,892h1.5v1h-1.5zM206,932h2v1h-2zM550,902h1v1h-1zM415,906h2v1.5h-2zM450,939h2v1h-2zM67,921h2v1.5h-2zM151,939h1v2h-1zM139,900h2v1.5h-2zM62,922h1v2h-1zM412,898h1v1.5h-1zM497,874h1.5v1.5h-1.5zM533,885h2v1.5h-2zM481,905h1.5v2h-1.5zM126,935h2v2h-2zM95,943h1.5v1.5h-1.5zM519,921h2v2h-2zM99,899h2v1h-2zM517,884h1v1.5h-1zM85,897h1.5v1h-1.5zM232,928h2v1.5h-2zM557,883h1.5v1h-1.5zM249,940h1.5v1h-1.5zM556,909h1v1.5h-1zM83,939h2v2h-2zM305,891h1v2h-1zM199,922h2v1.5h-2zM253,881h1.5v1h-1.5zM130,932h2v1.5h-2zM194,893h1.5v1.5h-1.5zM450,921h1v2h-1zM426,914h1v2h-1zM38,868h2v2h-2zM57,877h2v1h-2zM146,872h2v1.5h-2zM39,884h2v1h-2zM231,869h2v2h-2zM69,869h2v1.5h-2zM164,865h1.5v1h-1.5zM60,873h1.5v2h-1.5zM252,872h1.5v2h-1.5zM104,872h2v1h-2zM329,872h1.5v1h-1.5zM146,864h2v1h-2zM316,869h2v1h-2zM37,881h1v2h-1zM188,857h1v1h-1zM84,869h1v2h-1zM389,869h2v2h-2zM99,874h2v1h-2zM87,867h2v1h-2zM83,871h2v2h-2zM145,861h1v2h-1zM194,871h1v2h-1zM317,867h1v2h-1zM153,856h2v1.5h-2zM486,856h1v1h-1zM112,876h2v1.5h-2zM187,857h2v2h-2zM82,871h1.5v1.5h-1.5zM266,870h2v1.5h-2zM189,864h2v1h-2zM207,868h2v2h-2zM484,867h2v1.5h-2zM163,870h2v2h-2zM60,869h2v1h-2zM36,883h2v2h-2zM515,857h1v1h-1zM516,856h1.5v2h-1.5zM255,867h1v1h-1zM42,865h1.5v1h-1.5zM220,871h1.5v1h-1.5zM479,868h2v1.5h-2zM456,856h1.5v2h-1.5zM187,864h2v1h-2zM213,871h2v1h-2zM321,870h2v2h-2zM18,883h2v2h-2zM478,858h2v1.5h-2zM404,870h2v2h-2zM557,863h1v1h-1zM270,858h2v1.5h-2zM141,867h1v1.5h-1zM510,867h2v2h-2zM182,865h2v1.5h-2zM547,868h1.5v1.5h-1.5zM55,868h2v2h-2zM83,872h1.5v1h-1.5zM135,859h1v1.5h-1zM163,855h2v1.5h-2zM516,866h2v2h-2zM411,868h1.5v1.5h-1.5zM262,871h2v1h-2zM67,883h2v1h-2zM361,865h1v2h-1zM460,863h1.5v1h-1.5zM162,867h1v1.5h-1zM17,871h2v1.5h-2zM340,858h2v1.5h-2zM510,860h2v1h-2zM110,877h1v1.5h-1zM310,869h1.5v2h-1.5zM71,872h2v2h-2zM155,860h1v1h-1zM531,858h2v1h-2zM329,872h2v2h-2zM154,869h1v1.5h-1zM241,872h2v1h-2zM214,866h1.5v2h-1.5zM401,867h1v2h-1zM516,856h2v1.5h-2zM68,883h2v1.5h-2zM448,871h2v2h-2zM200,869h2v2h-2zM440,860h1.5v1h-1.5zM483,856h1v1h-1zM450,869h2v1h-2zM237,871h2v1.5h-2zM119,870h1.5v1h-1.5zM153,869h1.5v2h-1.5zM17,880h2v1.5h-2zM24,873h1.5v1h-1.5zM335,873h1.5v1h-1.5zM363,860h1.5v1h-1.5zM68,876h1v1.5h-1zM251,873h1.5v1.5h-1.5zM271,859h2v1.5h-2zM115,860h1v1.5h-1zM320,865h1v2h-1zM145,869h1.5v1h-1.5zM348,869h2v1.5h-2zM220,859h2v1.5h-2zM116,867h1v2h-1zM557,862h2v1.5h-2zM136,867h1.5v1h-1.5zM257,870h2v2h-2zM527,861h1.5v1h-1.5zM138,870h2v1h-2zM53,868h1.5v2h-1.5zM266,873h2v1h-2zM234,866h2v1h-2zM29,875h1.5v1h-1.5zM427,862h2v1h-2zM209,866h2v1h-2zM440,856h1.5v1.5h-1.5zM420,870h1v1h-1zM378,857h1v1h-1zM439,862h2v2h-2zM253,873h1v2h-1zM416,867h1.5v2h-1.5zM33,881h2v1.5h-2zM326,869h2v1h-2zM171,870h1v1h-1zM435,857h2v1h-2zM300,871h2v1h-2zM446,858h1v1.5h-1zM65,881h1.5v1.5h-1.5zM482,857h2v2h-2zM241,869h1.5v2h-1.5zM437,871h1v1h-1zM110,864h1.5v1.5h-1.5zM484,861h1.5v2h-1.5zM397,865h1.5v1.5h-1.5zM550,856h2v2h-2zM525,858h1v1.5h-1zM417,865h2v2h-2zM224,858h1v1.5h-1zM310,865h1v2h-1zM393,857h1v2h-1zM82,880h1.5v2h-1.5zM322,863h2v1.5h-2zM95,878h2v1h-2zM259,873h2v1h-2zM481,859h1.5v1.5h-1.5zM179,870h2v2h-2zM447,858h1v1h-1zM415,866h1v1h-1zM284,857h2v1.5h-2zM223,860h1v1.5h-1zM388,870h1.5v1.5h-1.5zM158,860h1.5v1h-1.5zM290,862h2v2h-2z" fill="#000" stroke="none"/>
<g stroke-width="1.4"><circle cx="26.1" cy="863.7" r="2.3"/><circle cx="31.1" cy="863.2" r="2.2"/><circle cx="27.7" cy="867.9" r="2.1"/><circle cx="31.7" cy="867.3" r="2.0"/><circle cx="42.2" cy="866.3" r="1.9"/><circle cx="47.0" cy="865.2" r="2.2"/><circle cx="43.6" cy="870.8" r="2.0"/><circle cx="33.4" cy="877.2" r="2.1"/><circle cx="38.2" cy="877.0" r="2.2"/><circle cx="33.9" cy="881.4" r="1.9"/><circle cx="38.3" cy="880.4" r="1.8"/><circle cx="136.8" cy="866.5" r="2.2"/><circle cx="140.9" cy="866.7" r="2.1"/><circle cx="137.0" cy="871.9" r="2.0"/><circle cx="141.5" cy="870.8" r="2.2"/><circle cx="153.6" cy="867.7" r="2.2"/><circle cx="157.9" cy="867.9" r="2.0"/><circle cx="154.1" cy="872.6" r="2.2"/><circle cx="189.7" cy="857.5" r="2.0"/><circle cx="193.7" cy="857.1" r="1.8"/><circle cx="189.8" cy="861.8" r="2.0"/><circle cx="194.6" cy="861.3" r="2.0"/><circle cx="247.1" cy="866.6" r="1.9"/><circle cx="252.0" cy="866.5" r="2.0"/><circle cx="248.8" cy="871.3" r="2.1"/><circle cx="253.2" cy="871.0" r="2.1"/><circle cx="259.4" cy="868.5" r="2.0"/><circle cx="263.9" cy="868.1" r="1.9"/><circle cx="259.9" cy="872.4" r="2.3"/><circle cx="299.0" cy="857.9" r="2.0"/><circle cx="304.2" cy="857.1" r="1.9"/><circle cx="299.3" cy="861.9" r="1.8"/><circle cx="303.7" cy="861.7" r="2.1"/><circle cx="355.1" cy="867.5" r="2.1"/><circle cx="358.7" cy="867.0" r="1.9"/><circle cx="354.9" cy="871.0" r="2.1"/><circle cx="359.7" cy="870.8" r="2.0"/><circle cx="364.6" cy="869.7" r="2.2"/><circle cx="369.7" cy="869.2" r="2.1"/><circle cx="408.1" cy="857.1" r="1.8"/><circle cx="413.5" cy="856.5" r="2.3"/><circle cx="408.9" cy="861.9" r="1.9"/><circle cx="413.1" cy="860.3" r="1.8"/><circle cx="443.5" cy="860.4" r="2.1"/><circle cx="447.7" cy="859.1" r="1.8"/><circle cx="443.9" cy="864.6" r="2.3"/><circle cx="465.3" cy="867.1" r="2.1"/><circle cx="470.6" cy="866.0" r="1.8"/><circle cx="466.8" cy="871.1" r="1.9"/><circle cx="515.7" cy="858.5" r="1.9"/><circle cx="520.4" cy="858.1" r="1.9"/><circle cx="515.9" cy="863.8" r="2.1"/><circle cx="520.4" cy="863.4" r="2.1"/><circle cx="523.5" cy="864.0" r="2.2"/><circle cx="527.6" cy="863.6" r="2.0"/></g>
<path d="M24,869h2v2h-2zM38,867h2v2h-2zM51,866h2v2h-2zM46,873h2v2h-2zM52,872h2v2h-2zM48,872h2v2h-2zM32,875h2v2h-2zM30,878h2v2h-2zM43,882h2v2h-2zM148,868h2v2h-2zM130,868h2v2h-2zM133,864h2v2h-2zM148,868h2v2h-2zM166,870h2v2h-2zM158,865h2v2h-2zM152,865h2v2h-2zM163,868h2v2h-2zM196,863h2v2h-2zM183,857h2v2h-2zM191,865h2v2h-2zM188,865h2v2h-2zM183,860h2v2h-2zM253,864h2v2h-2zM260,871h2v2h-2zM242,868h2v2h-2zM258,872h2v2h-2zM264,866h2v2h-2zM260,864h2v2h-2zM294,860h2v2h-2zM307,863h2v2h-2zM293,859h2v2h-2zM350,868h2v2h-2zM362,863h2v2h-2zM366,866h2v2h-2zM364,871h2v2h-2zM376,871h2v2h-2zM368,867h2v2h-2zM403,863h2v2h-2zM406,864h2v2h-2zM419,860h2v2h-2zM405,858h2v2h-2zM455,861h2v2h-2zM453,867h2v2h-2zM447,856h2v2h-2zM454,862h2v2h-2zM451,865h2v2h-2zM472,866h2v2h-2zM471,863h2v2h-2zM460,867h2v2h-2zM476,869h2v2h-2zM461,865h2v2h-2zM519,867h2v2h-2zM523,857h2v2h-2zM510,863h2v2h-2zM527,861h2v2h-2zM521,866h2v2h-2zM518,862h2v2h-2zM518,867h2v2h-2zM518,866h2v2h-2z" fill="#000" stroke="none"/>
<path d="M36.3,952.1 C37.1,952.1 39.7,952.2 41.4,952.1 C43.1,952.1 44.8,952.1 46.5,952.0 C48.2,951.9 49.9,951.9 51.6,951.7 C53.3,951.6 55.1,951.5 56.8,951.4 C58.5,951.3 60.2,951.1 61.9,951.0 C63.6,950.9 65.3,950.8 67.0,950.7 C68.7,950.6 71.3,950.5 72.1,950.4M79.9,951.8 C80.7,951.8 83.3,951.7 85.0,951.7 C86.7,951.6 88.4,951.5 90.1,951.4 C91.8,951.3 93.5,951.1 95.2,951.0 C96.9,950.8 98.6,950.7 100.3,950.5 C102.0,950.4 103.7,950.3 105.4,950.1 C107.1,950.0 108.8,949.9 110.5,949.9 C112.2,949.8 113.9,949.7 115.6,949.7 C117.3,949.7 119.0,949.7 120.7,949.8 C122.4,949.8 124.1,949.9 125.8,950.0 C127.5,950.0 129.2,950.2 130.9,950.3 C132.6,950.4 135.2,950.5 136.0,950.6M142.4,949.9 C143.3,950.0 146.0,950.2 147.8,950.3 C149.6,950.4 151.3,950.6 153.1,950.7 C154.9,950.8 156.7,950.9 158.5,951.0 C160.3,951.0 162.1,951.1 163.9,951.1 C165.7,951.2 167.5,951.1 169.3,951.1 C171.1,951.1 172.8,951.0 174.6,950.9 C176.4,950.9 178.2,950.8 180.0,950.7 C181.8,950.6 183.6,950.5 185.4,950.4 C187.2,950.3 189.0,950.2 190.8,950.1 C192.6,950.0 195.2,950.0 196.1,950.0M267.0,952.7 C267.8,952.7 270.5,952.6 272.2,952.6 C274.0,952.6 275.7,952.5 277.5,952.5 C279.2,952.5 281.0,952.5 282.8,952.5 C284.5,952.5 286.3,952.5 288.0,952.5 C289.8,952.6 291.5,952.6 293.3,952.7 C295.0,952.7 296.8,952.8 298.6,952.9 C300.3,953.0 302.9,953.2 303.8,953.2M313.0,953.5 C314.0,953.5 317.0,953.4 318.9,953.4 C320.9,953.4 323.9,953.4 324.9,953.4M335.6,954.1 C336.5,954.1 339.0,954.1 340.7,954.1 C342.4,954.1 344.1,954.1 345.7,954.0 C347.4,954.0 349.1,953.9 350.8,953.8 C352.5,953.7 354.2,953.6 355.9,953.6 C357.5,953.5 359.2,953.4 360.9,953.3 C362.6,953.2 364.3,953.1 366.0,953.0 C367.7,952.9 369.3,952.8 371.0,952.6 C372.7,952.5 374.4,952.4 376.1,952.3 C377.8,952.3 380.3,952.1 381.2,952.1M392.0,952.3 C392.9,952.3 395.9,952.3 397.8,952.2 C399.8,952.1 401.7,952.0 403.6,951.9 C405.6,951.7 407.5,951.5 409.5,951.3 C411.4,951.1 414.3,950.7 415.3,950.6M427.5,949.5 C428.6,949.6 431.8,949.8 433.9,949.9 C436.0,950.0 439.2,950.2 440.3,950.3M449.3,950.2 C450.0,950.2 452.0,950.2 453.4,950.1 C454.7,950.1 456.7,950.0 457.4,950.0M460.5,950.7 C461.4,950.8 464.1,950.8 465.9,950.8 C467.7,950.8 469.5,950.7 471.3,950.6 C473.2,950.4 475.0,950.3 476.8,950.1 C478.6,949.9 480.4,949.7 482.2,949.5 C484.0,949.3 485.8,949.1 487.6,948.9 C489.4,948.7 491.3,948.6 493.1,948.4 C494.9,948.3 496.7,948.2 498.5,948.2 C500.3,948.2 502.1,948.2 503.9,948.2 C505.7,948.3 508.5,948.5 509.4,948.5M513.7,949.2 C514.6,949.2 517.3,949.0 519.1,948.9 C520.9,948.8 522.6,948.8 524.4,948.7 C526.2,948.6 528.0,948.6 529.8,948.6 C531.5,948.5 533.3,948.5 535.1,948.6 C536.9,948.6 539.6,948.7 540.4,948.7M36.6,955.8 C37.4,955.8 40.0,955.6 41.7,955.6 C43.4,955.5 45.1,955.4 46.8,955.4 C48.5,955.4 50.2,955.4 51.9,955.4 C53.6,955.4 55.2,955.5 56.9,955.5 C58.6,955.6 60.3,955.7 62.0,955.8 C63.7,955.9 65.4,956.0 67.1,956.1 C68.8,956.1 70.5,956.2 72.2,956.3 C73.9,956.4 75.6,956.4 77.3,956.4 C79.0,956.5 80.7,956.5 82.4,956.5 C84.1,956.4 85.8,956.4 87.5,956.3 C89.2,956.2 90.9,956.1 92.6,956.0 C94.3,955.9 96.0,955.8 97.6,955.6 C99.3,955.5 101.0,955.4 102.7,955.2 C104.4,955.1 107.0,955.0 107.8,954.9M113.1,955.9 C113.9,956.0 116.4,956.2 118.0,956.2 C119.6,956.3 122.1,956.3 122.9,956.3M134.5,955.6 C135.4,955.6 138.1,955.5 139.9,955.4 C141.7,955.3 143.5,955.2 145.3,955.1 C147.1,955.0 148.9,954.9 150.7,954.9 C152.5,954.8 154.3,954.7 156.1,954.6 C157.9,954.6 159.7,954.6 161.5,954.5 C163.3,954.5 165.1,954.5 166.9,954.6 C168.7,954.6 170.5,954.7 172.3,954.8 C174.1,954.8 176.8,955.0 177.7,955.0M183.7,954.5 C184.6,954.5 187.4,954.5 189.2,954.5 C191.1,954.6 192.9,954.7 194.8,954.8 C196.7,954.9 198.5,955.1 200.4,955.2 C202.2,955.4 204.1,955.6 205.9,955.8 C207.8,956.0 209.6,956.2 211.5,956.3 C213.4,956.5 215.2,956.7 217.1,956.8 C218.9,956.9 220.8,957.0 222.6,957.0 C224.5,957.0 227.3,957.0 228.2,957.0M243.8,956.3 C244.7,956.3 247.3,956.3 249.0,956.3 C250.7,956.3 252.4,956.3 254.1,956.3 C255.8,956.3 257.5,956.4 259.2,956.4 C260.9,956.5 262.6,956.6 264.4,956.7 C266.1,956.8 267.8,956.9 269.5,957.1 C271.2,957.2 272.9,957.3 274.6,957.5 C276.3,957.6 278.0,957.7 279.7,957.9 C281.4,958.0 283.2,958.1 284.9,958.2 C286.6,958.3 288.3,958.3 290.0,958.4 C291.7,958.4 293.4,958.5 295.1,958.5 C296.8,958.5 298.5,958.5 300.3,958.4 C302.0,958.4 304.5,958.3 305.4,958.3M319.7,959.2 C320.7,959.3 323.9,959.4 326.0,959.4 C328.1,959.4 330.2,959.4 332.2,959.3 C334.3,959.2 337.5,959.0 338.5,958.9M350.2,959.2 C351.1,959.2 353.7,959.3 355.5,959.3 C357.3,959.3 359.1,959.2 360.9,959.1 C362.7,959.0 364.5,958.9 366.2,958.7 C368.0,958.5 369.8,958.3 371.6,958.0 C373.4,957.8 376.1,957.4 377.0,957.2M391.0,956.8 C391.9,956.7 394.5,956.8 396.2,956.7 C397.9,956.7 399.6,956.7 401.3,956.6 C403.0,956.6 404.7,956.5 406.4,956.4 C408.1,956.2 409.8,956.1 411.5,956.0 C413.3,955.8 415.0,955.6 416.7,955.5 C418.4,955.3 420.1,955.1 421.8,954.9 C423.5,954.7 425.2,954.5 426.9,954.4 C428.6,954.2 430.4,954.1 432.1,954.0 C433.8,953.9 436.3,953.8 437.2,953.8M495.6,953.7 C496.5,953.8 499.2,953.8 501.0,953.9 C502.8,954.0 504.6,954.1 506.4,954.1 C508.2,954.2 510.0,954.3 511.8,954.4 C513.6,954.4 515.4,954.5 517.2,954.5 C519.0,954.5 520.8,954.5 522.6,954.5 C524.4,954.5 526.2,954.5 528.0,954.4 C529.8,954.4 531.6,954.3 533.4,954.2 C535.2,954.1 537.0,954.0 538.8,953.9 C540.6,953.8 542.4,953.7 544.2,953.6 C546.0,953.5 547.8,953.5 549.6,953.4 C551.4,953.3 554.1,953.3 555.0,953.2M33.3,961.9 C34.1,961.9 36.6,961.9 38.3,961.9 C40.0,961.8 41.6,961.8 43.3,961.7 C45.0,961.6 46.7,961.5 48.3,961.4 C50.0,961.2 51.7,961.1 53.3,961.0 C55.0,960.8 56.7,960.7 58.4,960.5 C60.0,960.4 61.7,960.3 63.4,960.2 C65.1,960.1 66.7,960.0 68.4,960.0 C70.1,959.9 71.7,959.9 73.4,959.9 C75.1,959.9 76.8,959.9 78.4,959.9 C80.1,960.0 81.8,960.1 83.4,960.1 C85.1,960.2 86.8,960.3 88.5,960.4 C90.1,960.5 91.8,960.6 93.5,960.7 C95.2,960.8 97.7,960.9 98.5,960.9M104.8,960.6 C105.7,960.6 108.4,960.5 110.1,960.4 C111.9,960.3 113.7,960.3 115.5,960.2 C117.3,960.1 119.0,960.0 120.8,960.0 C122.6,959.9 124.4,959.8 126.1,959.8 C127.9,959.7 129.7,959.7 131.5,959.6 C133.3,959.6 135.0,959.6 136.8,959.6 C138.6,959.6 141.3,959.7 142.1,959.7M151.5,959.9 C152.4,959.8 155.0,959.8 156.7,959.7 C158.5,959.7 160.2,959.6 162.0,959.6 C163.7,959.6 165.4,959.6 167.2,959.6 C168.9,959.6 170.7,959.6 172.4,959.7 C174.1,959.7 175.9,959.7 177.6,959.8 C179.4,959.9 181.1,960.0 182.9,960.0 C184.6,960.1 186.3,960.2 188.1,960.3 C189.8,960.4 191.6,960.5 193.3,960.5 C195.0,960.6 196.8,960.7 198.5,960.7 C200.3,960.8 202.0,960.8 203.7,960.9 C205.5,960.9 207.2,960.9 209.0,960.9 C210.7,961.0 212.5,961.0 214.2,960.9 C215.9,960.9 218.5,960.9 219.4,960.9M229.4,960.9 C230.2,960.9 232.8,961.1 234.6,961.2 C236.3,961.3 238.1,961.4 239.8,961.6 C241.5,961.7 243.3,961.8 245.0,961.9 C246.7,962.0 248.5,962.0 250.2,962.1 C251.9,962.1 253.7,962.2 255.4,962.2 C257.2,962.2 259.8,962.2 260.6,962.2M275.8,962.5 C277.0,962.5 280.4,962.4 282.7,962.3 C285.0,962.3 288.4,962.2 289.6,962.2M297.2,962.7 C298.1,962.8 300.6,963.2 302.3,963.4 C304.0,963.6 305.7,963.7 307.4,963.9 C309.0,964.0 310.7,964.2 312.4,964.2 C314.1,964.3 315.8,964.4 317.5,964.4 C319.2,964.3 320.9,964.3 322.6,964.2 C324.2,964.1 325.9,964.0 327.6,963.9 C329.3,963.8 331.0,963.6 332.7,963.4 C334.4,963.3 336.1,963.1 337.7,963.0 C339.4,962.8 342.0,962.6 342.8,962.5M349.4,962.4 C349.9,962.4 351.2,962.4 352.1,962.5 C353.1,962.5 354.4,962.6 354.9,962.6M370.2,962.2 C371.2,962.2 374.0,962.1 375.8,962.1 C377.7,962.1 379.5,962.1 381.4,962.1 C383.2,962.0 385.1,962.0 386.9,962.0 C388.8,961.9 390.6,961.8 392.5,961.7 C394.4,961.6 396.2,961.5 398.1,961.4 C399.9,961.3 401.8,961.1 403.6,960.9 C405.5,960.8 408.3,960.5 409.2,960.4M423.5,959.5 C424.1,959.5 426.1,959.5 427.4,959.5 C428.8,959.5 430.8,959.5 431.4,959.5M442.9,958.4 C443.8,958.4 446.3,958.3 448.0,958.3 C449.8,958.3 451.5,958.3 453.2,958.4 C454.9,958.5 456.6,958.6 458.3,958.7 C460.0,958.8 462.5,959.1 463.4,959.2M479.1,959.3 C479.9,959.3 482.6,959.2 484.4,959.1 C486.2,959.1 488.0,959.0 489.7,958.9 C491.5,958.8 493.3,958.8 495.1,958.7 C496.9,958.7 498.7,958.6 500.4,958.6 C502.2,958.6 504.0,958.6 505.8,958.6 C507.6,958.6 509.4,958.6 511.1,958.6 C512.9,958.6 514.7,958.7 516.5,958.7 C518.3,958.7 520.1,958.8 521.8,958.8 C523.6,958.9 525.4,958.9 527.2,959.0 C529.0,959.0 531.6,959.0 532.5,959.0M28.2,967.4 C29.3,967.5 32.3,967.6 34.4,967.7 C36.4,967.8 39.5,967.8 40.5,967.9M118.3,965.8 C119.2,965.8 121.7,965.7 123.4,965.7 C125.1,965.6 126.7,965.6 128.4,965.6 C130.1,965.6 131.8,965.6 133.5,965.6 C135.2,965.6 136.8,965.6 138.5,965.7 C140.2,965.7 141.9,965.7 143.6,965.8 C145.3,965.8 146.9,965.9 148.6,965.9 C150.3,966.0 152.8,966.0 153.7,966.1M161.7,965.0 C162.5,965.0 165.0,965.0 166.6,965.1 C168.2,965.1 170.7,965.3 171.5,965.3M187.0,965.4 C187.8,965.5 190.4,965.6 192.2,965.7 C193.9,965.9 195.7,966.0 197.4,966.1 C199.1,966.3 200.9,966.5 202.6,966.6 C204.4,966.7 206.1,966.9 207.8,967.0 C209.6,967.1 211.3,967.3 213.1,967.3 C214.8,967.4 216.5,967.5 218.3,967.5 C220.0,967.5 221.8,967.5 223.5,967.5 C225.3,967.5 227.0,967.5 228.7,967.4 C230.5,967.3 233.1,967.2 234.0,967.2M243.5,967.6 C244.4,967.6 247.0,967.6 248.7,967.6 C250.5,967.6 252.2,967.6 253.9,967.6 C255.6,967.6 257.4,967.5 259.1,967.6 C260.8,967.6 262.6,967.6 264.3,967.6 C266.0,967.6 267.7,967.6 269.5,967.7 C271.2,967.7 272.9,967.8 274.7,967.9 C276.4,967.9 278.1,968.0 279.8,968.1 C281.6,968.2 284.2,968.4 285.0,968.4M299.5,968.7 C300.4,968.7 303.2,968.7 305.0,968.6 C306.8,968.6 308.6,968.6 310.4,968.6 C312.2,968.6 314.0,968.6 315.8,968.7 C317.6,968.7 319.5,968.8 321.3,968.8 C323.1,968.9 324.9,969.0 326.7,969.1 C328.5,969.2 330.3,969.3 332.1,969.3 C333.9,969.4 335.8,969.5 337.6,969.6 C339.4,969.6 341.2,969.7 343.0,969.7 C344.8,969.7 346.6,969.7 348.4,969.7 C350.2,969.7 353.0,969.6 353.9,969.6M366.7,968.1 C367.5,968.1 370.1,967.9 371.8,967.9 C373.5,967.8 375.2,967.8 376.9,967.7 C378.5,967.7 380.2,967.7 381.9,967.6 C383.6,967.6 385.3,967.6 387.0,967.6 C388.7,967.5 390.4,967.5 392.1,967.5 C393.8,967.4 395.5,967.4 397.2,967.3 C398.9,967.3 400.6,967.2 402.3,967.1 C404.0,967.0 406.5,966.8 407.4,966.8M422.8,966.2 C423.7,966.1 426.7,965.9 428.7,965.7 C430.7,965.6 432.7,965.4 434.7,965.2 C436.6,965.1 438.6,964.9 440.6,964.8 C442.6,964.7 445.6,964.6 446.6,964.6M450.1,964.2 C451.0,964.2 453.7,964.2 455.4,964.2 C457.2,964.3 459.0,964.4 460.8,964.5 C462.6,964.6 464.4,964.8 466.2,964.9 C467.9,965.1 469.7,965.3 471.5,965.4 C473.3,965.6 475.1,965.7 476.9,965.8 C478.7,965.9 480.4,966.0 482.2,966.1 C484.0,966.1 486.7,966.1 487.6,966.1M494.7,965.0 C495.6,965.0 498.3,964.7 500.1,964.6 C501.9,964.4 503.8,964.3 505.6,964.2 C507.4,964.1 509.2,964.0 511.0,963.9 C512.8,963.9 514.6,963.9 516.4,963.9 C518.2,963.9 520.0,964.0 521.9,964.1 C523.7,964.2 526.4,964.3 527.3,964.4M534.1,965.6 C534.9,965.6 537.6,965.5 539.3,965.4 C541.1,965.3 542.8,965.2 544.5,965.1 C546.3,964.9 548.9,964.7 549.8,964.6M16.9,972.1 C17.8,972.1 20.5,972.2 22.3,972.2 C24.1,972.3 25.9,972.3 27.7,972.4 C29.4,972.4 31.2,972.5 33.0,972.5 C34.8,972.5 36.6,972.6 38.4,972.6 C40.2,972.6 42.9,972.5 43.8,972.5M58.6,971.8 C59.4,971.8 62.0,971.9 63.7,971.9 C65.3,972.0 67.0,972.0 68.7,972.1 C70.4,972.1 72.1,972.1 73.8,972.1 C75.5,972.1 77.2,972.1 78.9,972.1 C80.6,972.1 82.3,972.0 84.0,972.0 C85.7,971.9 88.2,971.8 89.1,971.7M99.6,970.6 C100.5,970.6 103.1,970.7 104.9,970.8 C106.7,970.9 108.5,971.1 110.2,971.2 C112.0,971.3 113.8,971.4 115.5,971.6 C117.3,971.7 119.1,971.8 120.9,971.8 C122.6,971.9 124.4,972.0 126.2,972.0 C127.9,972.0 129.7,972.0 131.5,971.9 C133.3,971.9 135.0,971.8 136.8,971.7 C138.6,971.6 140.4,971.4 142.1,971.3 C143.9,971.1 145.7,971.0 147.4,970.8 C149.2,970.7 151.0,970.5 152.8,970.4 C154.5,970.3 156.3,970.2 158.1,970.1 C159.9,970.1 162.5,970.1 163.4,970.1M174.9,971.4 C175.8,971.4 178.5,971.2 180.3,971.2 C182.1,971.1 183.9,971.0 185.6,971.0 C187.4,970.9 189.2,970.8 191.0,970.8 C192.8,970.8 195.4,970.8 196.3,970.8M207.6,972.6 C208.5,972.6 211.1,972.5 212.8,972.4 C214.5,972.3 216.2,972.1 217.9,972.0 C219.6,971.9 221.4,971.8 223.1,971.6 C224.8,971.5 226.5,971.4 228.2,971.3 C229.9,971.3 231.6,971.2 233.3,971.2 C235.1,971.2 236.8,971.2 238.5,971.3 C240.2,971.3 241.9,971.4 243.6,971.6 C245.3,971.7 247.0,971.9 248.8,972.1 C250.5,972.3 252.2,972.5 253.9,972.7 C255.6,972.9 257.3,973.1 259.0,973.3 C260.7,973.5 262.5,973.7 264.2,973.8 C265.9,974.0 268.5,974.1 269.3,974.2M279.0,973.1 C279.9,973.1 282.8,973.1 284.7,973.1 C286.5,973.2 288.4,973.2 290.3,973.3 C292.2,973.4 294.1,973.5 296.0,973.6 C297.9,973.7 299.8,973.8 301.7,973.9 C303.6,974.0 306.4,974.2 307.4,974.2M322.8,974.8 C323.9,974.8 327.1,974.5 329.2,974.3 C331.4,974.1 334.6,973.8 335.7,973.7M340.3,974.6 C341.4,974.5 344.6,974.3 346.8,974.1 C348.9,973.9 352.1,973.7 353.2,973.6M361.7,974.6 C362.6,974.5 365.3,974.4 367.1,974.2 C368.9,974.1 370.7,973.9 372.5,973.7 C374.3,973.5 376.1,973.3 377.8,973.1 C379.6,972.9 381.4,972.6 383.2,972.4 C385.0,972.2 386.8,972.1 388.6,971.9 C390.4,971.7 392.2,971.6 394.0,971.5 C395.7,971.4 397.5,971.3 399.3,971.2 C401.1,971.2 402.9,971.1 404.7,971.1 C406.5,971.1 409.2,971.1 410.1,971.1M420.5,971.7 C421.2,971.6 423.1,971.6 424.4,971.5 C425.6,971.4 427.5,971.3 428.2,971.2M433.9,971.2 C434.8,971.2 437.5,971.1 439.3,971.0 C441.1,970.9 442.9,970.8 444.7,970.7 C446.5,970.6 448.3,970.4 450.2,970.3 C452.0,970.2 453.8,970.1 455.6,970.0 C457.4,969.9 459.2,969.8 461.0,969.8 C462.8,969.7 464.6,969.7 466.4,969.7 C468.2,969.7 470.0,969.7 471.8,969.7 C473.6,969.7 475.4,969.8 477.2,969.9 C479.0,969.9 481.7,970.0 482.6,970.1M492.4,970.4 C493.0,970.4 494.7,970.3 495.9,970.3 C497.0,970.2 498.7,970.2 499.3,970.1M24.9,976.8 C26.0,976.9 29.1,977.1 31.1,977.3 C33.2,977.5 35.2,977.6 37.3,977.8 C39.4,977.9 42.5,978.0 43.5,978.1M50.2,977.5 C51.0,977.6 53.6,977.8 55.3,977.8 C57.0,977.9 58.6,977.9 60.3,977.9 C62.0,977.9 63.7,977.9 65.4,977.8 C67.1,977.8 68.8,977.7 70.5,977.5 C72.2,977.4 73.9,977.2 75.6,977.1 C77.3,976.9 79.0,976.7 80.6,976.6 C82.3,976.4 84.0,976.2 85.7,976.0 C87.4,975.9 89.1,975.7 90.8,975.6 C92.5,975.5 94.2,975.5 95.9,975.4 C97.6,975.4 99.3,975.4 101.0,975.4 C102.7,975.5 104.3,975.5 106.0,975.6 C107.7,975.7 109.4,975.9 111.1,976.0 C112.8,976.1 114.5,976.3 116.2,976.4 C117.9,976.6 120.4,976.7 121.3,976.8M214.4,976.6 C215.3,976.6 217.8,976.8 219.5,976.9 C221.2,976.9 222.9,977.0 224.7,977.1 C226.4,977.2 228.1,977.3 229.8,977.4 C231.5,977.5 233.2,977.5 234.9,977.6 C236.6,977.7 238.3,977.7 240.0,977.8 C241.7,977.8 243.4,977.9 245.2,977.9 C246.9,977.9 248.6,977.9 250.3,977.9 C252.0,977.9 253.7,977.9 255.4,977.9 C257.1,977.9 258.8,977.9 260.5,977.9 C262.2,977.9 263.9,977.9 265.7,977.9 C267.4,977.9 269.1,977.9 270.8,977.9 C272.5,978.0 274.2,978.0 275.9,978.0 C277.6,978.1 280.2,978.2 281.0,978.2M286.8,979.4 C287.7,979.4 290.3,979.4 292.0,979.3 C293.7,979.3 295.4,979.2 297.1,979.1 C298.8,979.0 300.5,978.9 302.2,978.8 C303.9,978.8 306.4,978.6 307.3,978.6M371.8,979.4 C372.7,979.3 375.6,979.4 377.4,979.3 C379.3,979.2 381.2,979.1 383.1,978.9 C385.0,978.8 386.8,978.6 388.7,978.3 C390.6,978.1 392.5,977.8 394.3,977.5 C396.2,977.2 398.1,976.9 400.0,976.6 C401.9,976.3 403.7,976.0 405.6,975.8 C407.5,975.5 410.3,975.3 411.2,975.2M422.0,975.6 C422.9,975.6 425.6,975.9 427.4,976.0 C429.2,976.1 431.0,976.3 432.8,976.4 C434.5,976.5 436.3,976.6 438.1,976.7 C439.9,976.7 441.7,976.8 443.5,976.7 C445.2,976.7 447.0,976.6 448.8,976.5 C450.6,976.4 452.4,976.2 454.2,976.1 C455.9,975.9 457.7,975.7 459.5,975.5 C461.3,975.3 463.1,975.1 464.9,974.9 C466.6,974.7 468.4,974.5 470.2,974.4 C472.0,974.2 473.8,974.1 475.6,974.1 C477.3,974.0 479.1,974.0 480.9,974.1 C482.7,974.1 484.5,974.2 486.3,974.3 C488.0,974.4 490.7,974.7 491.6,974.7M34.7,981.0 C35.6,980.9 38.2,980.6 40.0,980.4 C41.8,980.3 43.5,980.1 45.3,980.0 C47.1,979.9 48.9,979.9 50.6,979.8 C52.4,979.8 54.2,979.8 55.9,979.9 C57.7,980.0 59.5,980.1 61.3,980.2 C63.0,980.3 64.8,980.5 66.6,980.6 C68.3,980.8 70.1,980.9 71.9,981.1 C73.7,981.2 75.4,981.3 77.2,981.4 C79.0,981.5 81.6,981.6 82.5,981.6M91.6,980.7 C92.4,980.7 94.9,980.8 96.6,980.7 C98.3,980.7 100.0,980.7 101.7,980.7 C103.4,980.6 105.0,980.6 106.7,980.5 C108.4,980.5 110.1,980.4 111.8,980.3 C113.5,980.3 115.1,980.2 116.8,980.1 C118.5,980.0 120.2,979.9 121.9,979.9 C123.6,979.8 126.1,979.7 126.9,979.7M228.2,980.3 C229.0,980.3 231.4,980.3 232.9,980.4 C234.5,980.4 236.9,980.6 237.7,980.6M249.7,982.6 C250.6,982.6 253.1,982.6 254.9,982.5 C256.6,982.4 258.3,982.3 260.0,982.2 C261.8,982.1 263.5,981.9 265.2,981.8 C266.9,981.7 268.7,981.6 270.4,981.5 C272.1,981.4 273.8,981.3 275.5,981.3 C277.3,981.2 279.0,981.2 280.7,981.3 C282.4,981.3 284.2,981.4 285.9,981.5 C287.6,981.6 289.3,981.8 291.0,982.0 C292.8,982.2 294.5,982.4 296.2,982.6 C297.9,982.8 300.5,983.1 301.4,983.2M424.2,979.0 C425.1,979.0 427.6,979.0 429.3,979.0 C431.0,979.0 432.7,979.1 434.4,979.2 C436.1,979.3 437.8,979.4 439.6,979.4 C441.3,979.5 443.0,979.6 444.7,979.7 C446.4,979.8 448.1,979.9 449.8,980.0 C451.5,980.0 453.2,980.1 454.9,980.1 C456.6,980.1 459.2,980.0 460.0,980.0M466.9,978.8 C467.6,978.9 469.8,979.0 471.2,979.0 C472.6,979.1 474.8,979.2 475.5,979.2M21.5,986.4 C22.4,986.4 24.9,986.2 26.7,986.1 C28.4,986.1 30.1,985.9 31.9,985.8 C33.6,985.7 35.3,985.6 37.0,985.6 C38.8,985.5 40.5,985.4 42.2,985.3 C44.0,985.3 45.7,985.2 47.4,985.2 C49.1,985.2 50.9,985.2 52.6,985.2 C54.3,985.2 56.0,985.2 57.8,985.2 C59.5,985.3 61.2,985.3 63.0,985.4 C64.7,985.4 66.4,985.5 68.1,985.5 C69.9,985.6 71.6,985.6 73.3,985.7 C75.1,985.7 76.8,985.7 78.5,985.7 C80.2,985.8 82.0,985.8 83.7,985.7 C85.4,985.7 87.2,985.7 88.9,985.6 C90.6,985.5 93.2,985.4 94.1,985.4M234.3,986.0 C235.2,986.1 237.9,986.2 239.7,986.3 C241.5,986.4 243.3,986.5 245.1,986.6 C246.9,986.7 248.6,986.7 250.4,986.8 C252.2,986.8 254.0,986.8 255.8,986.9 C257.6,986.9 260.3,986.8 261.1,986.8M265.0,986.2 C265.9,986.2 268.6,986.1 270.4,986.2 C272.2,986.2 274.0,986.2 275.9,986.3 C277.7,986.4 279.5,986.5 281.3,986.6 C283.1,986.7 285.8,987.0 286.7,987.0M481.9,983.6 C482.5,983.5 484.2,983.5 485.3,983.5 C486.4,983.4 488.1,983.4 488.7,983.4M18.5,991.2 C19.5,991.2 22.8,991.2 25.0,991.3 C27.2,991.3 30.4,991.5 31.5,991.6M38.7,991.1 C39.6,991.1 42.4,991.2 44.2,991.3 C46.0,991.4 48.8,991.6 49.7,991.7M412.4,990.4 C413.5,990.3 416.7,990.1 418.9,990.0 C421.0,989.9 424.3,989.8 425.4,989.8M439.8,990.3 C440.7,990.3 443.2,990.4 444.9,990.4 C446.5,990.5 448.2,990.5 449.9,990.5 C451.6,990.5 453.2,990.5 454.9,990.5 C456.6,990.4 458.3,990.4 459.9,990.3 C461.6,990.2 463.3,990.2 465.0,990.1 C466.7,990.0 468.3,989.9 470.0,989.8 C471.7,989.7 473.4,989.6 475.0,989.5 C476.7,989.5 479.2,989.3 480.1,989.3M414.1,994.9 C415.0,994.8 417.6,994.6 419.4,994.5 C421.1,994.3 422.9,994.2 424.6,994.1 C426.4,994.0 428.1,993.9 429.9,993.8 C431.6,993.7 433.4,993.6 435.2,993.6 C436.9,993.6 438.7,993.6 440.4,993.6 C442.2,993.6 443.9,993.6 445.7,993.7 C447.4,993.7 449.2,993.8 451.0,993.9 C452.7,993.9 454.5,994.0 456.2,994.1 C458.0,994.2 459.7,994.2 461.5,994.3 C463.2,994.3 465.9,994.4 466.8,994.4M26.4,993.7 C27.4,993.9 30.5,995.1 32.6,995.2 C34.6,995.2 36.7,994.3 38.8,993.8 C40.9,993.3 44.0,992.4 45.0,992.1M123.6,978.9 C124.5,978.7 127.1,978.1 128.8,977.7 C130.6,977.3 132.3,977.0 134.1,976.6 C135.8,976.3 137.6,975.9 139.3,975.6 C141.1,975.2 142.8,974.9 144.6,974.5 C146.3,974.2 148.1,973.9 149.9,973.5 C151.6,973.2 153.4,972.8 155.1,972.4 C156.9,972.1 158.6,971.8 160.4,971.4 C162.1,971.1 163.9,970.7 165.6,970.5 C167.4,970.2 169.1,970.0 170.9,969.9 C172.6,969.8 174.4,969.9 176.1,970.1 C177.9,970.2 179.6,970.5 181.4,970.8 C183.1,971.1 184.9,971.5 186.6,971.9 C188.4,972.4 190.1,973.0 191.9,973.6 C193.6,974.2 196.3,975.4 197.2,975.7M205.6,979.6 C206.5,980.0 209.3,981.3 211.1,982.1 C212.9,982.9 214.7,983.7 216.5,984.5 C218.3,985.3 220.2,986.2 222.0,987.0 C223.8,987.8 225.6,988.5 227.4,989.2 C229.2,989.9 231.0,990.6 232.9,991.2 C234.7,991.8 236.5,992.4 238.3,992.8 C240.1,993.3 241.9,993.6 243.8,993.9 C245.6,994.1 247.4,994.1 249.2,994.1 C251.0,994.1 252.8,993.9 254.6,993.6 C256.5,993.4 259.2,992.8 260.1,992.6M276.0,988.9 C276.8,988.8 279.4,988.3 281.1,988.0 C282.8,987.6 284.5,987.2 286.2,986.7 C287.9,986.2 289.6,985.7 291.3,985.1 C293.0,984.6 294.7,984.1 296.4,983.5 C298.1,983.0 299.8,982.4 301.5,981.8 C303.2,981.3 304.8,980.7 306.5,980.1 C308.2,979.5 309.9,979.0 311.6,978.4 C313.3,977.8 315.0,977.3 316.7,976.7 C318.4,976.2 321.0,975.5 321.8,975.3M335.1,974.6 C335.9,974.6 338.4,974.4 340.1,974.3 C341.8,974.3 343.5,974.3 345.2,974.4 C346.9,974.5 348.6,974.6 350.2,974.8 C351.9,975.0 353.6,975.2 355.3,975.4 C357.0,975.7 358.7,975.9 360.4,976.2 C362.1,976.5 363.8,976.9 365.4,977.3 C367.1,977.7 368.8,978.1 370.5,978.6 C372.2,979.0 373.9,979.5 375.6,980.1 C377.3,980.6 378.9,981.2 380.6,981.8 C382.3,982.5 384.0,983.2 385.7,983.9 C387.4,984.5 389.9,985.6 390.8,985.9M401.7,990.5 C402.6,990.8 405.2,991.7 407.0,992.2 C408.8,992.7 410.6,993.2 412.4,993.6 C414.2,994.0 416.0,994.3 417.7,994.6 C419.5,994.9 421.3,995.2 423.1,995.5 C424.9,995.7 426.7,995.9 428.5,996.1 C430.3,996.3 432.0,996.4 433.8,996.6 C435.6,996.7 437.4,996.8 439.2,996.9 C441.0,997.0 443.7,997.0 444.6,997.0" stroke-width="1.5"/>
<path d="M191.4,131.3 C193.6,131.2 200.0,131.5 204.3,130.8 C208.6,130.2 213.6,127.6 217.2,127.4 C220.8,127.2 223.5,127.9 226.0,129.5 C228.5,131.1 230.2,133.9 232.0,137.0 C233.8,140.1 235.8,144.4 236.6,148.0 C237.3,151.6 236.5,156.6 236.5,158.3" stroke-width="1.65"/>
<path d="M281.0,118.4 C281.1,120.0 281.1,124.7 281.5,128.0 C281.9,131.3 281.9,133.2 283.2,138.0 C284.5,142.8 287.9,151.7 289.2,157.0 C290.5,162.3 291.0,166.0 291.0,170.0 C291.0,174.0 289.9,178.0 289.0,181.0 C288.1,184.0 285.9,186.8 285.3,188.0" stroke-width="1.65"/>
<path d="M170.9,177.6 C171.8,177.5 174.3,176.9 176.0,177.0 C177.7,177.1 179.5,177.6 181.2,178.4 C182.9,179.2 184.3,180.6 186.0,182.0 C187.7,183.4 189.6,185.7 191.4,187.0 C193.2,188.3 195.2,189.5 197.0,190.0 C198.8,190.5 200.6,190.4 202.5,190.0 C204.4,189.6 207.5,187.9 208.5,187.5" stroke-width="1.65"/>
<path d="M403.0,170.9 C401.1,171.1 394.6,171.3 391.4,172.2 C388.2,173.1 386.1,175.0 384.0,176.5 C381.9,178.0 380.6,179.9 378.6,181.2 C376.6,182.5 374.1,183.8 372.0,184.3 C369.9,184.8 367.7,184.7 365.7,184.4 C363.7,184.1 361.7,183.5 360.0,182.5 C358.3,181.5 356.6,180.2 355.4,178.6 C354.2,177.0 353.2,175.1 352.6,173.0 C352.0,170.9 351.9,167.2 351.8,166.0" stroke-width="1.65"/>
<path d="M405.5,282.0 C405.6,285.0 406.3,295.7 406.3,300.0 C406.3,304.3 406.2,305.6 405.5,308.0 C404.8,310.4 403.8,312.8 402.3,314.5 C400.8,316.2 398.4,317.6 396.5,318.3 C394.6,319.0 392.6,319.0 390.7,318.8 C388.8,318.6 385.9,317.6 385.0,317.4" stroke-width="1.65"/>
<path d="M130.9,374.0 C131.5,374.5 133.2,376.2 134.5,376.8 C135.8,377.4 137.0,377.6 138.6,377.6 C140.2,377.6 142.1,377.4 144.0,376.8 C145.9,376.2 148.4,375.2 150.2,374.0 C152.0,372.8 153.4,371.1 155.0,369.8 C156.6,368.5 158.1,367.2 159.8,366.3 C161.5,365.4 163.2,364.9 165.0,364.6 C166.8,364.4 169.5,364.8 170.4,364.8" stroke-width="1.65"/>
<path d="M440.6,581.2 C442.0,581.8 446.0,584.0 449.0,584.6 C452.0,585.2 455.4,585.4 458.6,585.0 C461.8,584.6 465.0,583.6 468.0,582.5 C471.0,581.4 473.5,579.9 476.6,578.6 C479.8,577.3 483.0,575.5 486.9,574.9 C490.8,574.2 497.6,574.7 499.7,574.7" stroke-width="1.65"/>
<path d="M450.9,671.2 C452.1,671.1 455.9,671.0 458.0,670.6 C460.1,670.2 461.7,669.7 463.7,668.6 C465.7,667.5 467.9,665.7 470.0,664.0 C472.1,662.3 474.2,660.0 476.6,658.6 C479.0,657.2 481.5,656.3 484.3,655.8 C487.1,655.3 491.8,655.6 493.3,655.6" stroke-width="1.65"/>
<path d="M337.5,678.5 C338.4,678.5 341.4,678.8 343.0,678.6 C344.6,678.4 345.7,678.4 347.2,677.4 C348.7,676.4 350.4,674.1 352.0,672.5 C353.6,670.9 355.0,669.1 356.8,668.0 C358.6,666.9 360.8,666.2 363.0,665.8 C365.2,665.4 369.1,665.5 370.3,665.5" stroke-width="1.65"/>
<path d="M326.5,718.0 C327.2,718.3 328.5,719.6 331.0,720.0 C333.5,720.4 339.7,720.2 341.4,720.2" stroke-width="1.65"/>
<path d="M344,719.5 C347,717 349,716 351.5,716 M354.5,715.3 L361.8,715.2" stroke-width="1.5"/>
<path d="M90.5,595 L134,594.5" stroke-width="1.9"/>
<path d="M128.5,591.2 L147,594.2 L128.5,597.4 Z" fill="#000" stroke-width="0.6"/>
<path d="M615.8,227.6 C621,234 625,241 623.5,246 C620,256 604,264 586.5,272" stroke-width="1.9"/>
<path d="M568.3,281.8 L585.0,269.0 L589.6,276.2 Z" fill="#000" stroke-width="0.8"/>
<path d="M229,682.6 L251.5,682.6" stroke-width="1.2"/>
</g>
<g font-family="'Liberation Sans', sans-serif" font-weight="bold" font-size="26" fill="#000"><text x="272.3" y="115.2" textLength="18.8" lengthAdjust="spacingAndGlyphs">42</text><text x="169.4" y="139.9" textLength="18.8" lengthAdjust="spacingAndGlyphs">43</text><text x="148.8" y="187.0" textLength="18.8" lengthAdjust="spacingAndGlyphs">31</text><text x="407.0" y="183.0" textLength="18.8" lengthAdjust="spacingAndGlyphs">40</text><text x="600.7" y="223.4" textLength="18.8" lengthAdjust="spacingAndGlyphs">30</text><text x="396.8" y="277.9" textLength="18.8" lengthAdjust="spacingAndGlyphs">39</text><text x="109.1" y="384.9" textLength="18.8" lengthAdjust="spacingAndGlyphs">35</text><text x="386.3" y="572.2" textLength="18.8" lengthAdjust="spacingAndGlyphs">41</text><text x="66.2" y="604.8" textLength="18.8" lengthAdjust="spacingAndGlyphs">32</text><text x="500.8" y="586.7" textLength="18.8" lengthAdjust="spacingAndGlyphs">34</text><text x="494.9" y="665.9" textLength="18.8" lengthAdjust="spacingAndGlyphs">33</text><text x="232.8" y="679.6" textLength="18.8" lengthAdjust="spacingAndGlyphs">36</text><text x="374.6" y="676.4" textLength="18.8" lengthAdjust="spacingAndGlyphs">37</text><text x="364.4" y="726.2" textLength="18.8" lengthAdjust="spacingAndGlyphs">38</text></g>
<text y="46.8" font-family="'Liberation Sans', 'IPAGothic', 'Noto Sans CJK JP', sans-serif" font-size="40" fill="#000"><tspan x="-16.6" y="45.4" font-size="37" font-family="'Liberation Sans', 'Noto Sans CJK JP', sans-serif" stroke="#000" stroke-width="0.9">【</tspan><tspan x="34.6 81.4" y="46.8" stroke="#000" stroke-width="0.45">図２</tspan><tspan x="134.3" y="45.2" font-size="37" font-family="'Liberation Sans', 'Noto Sans CJK JP', sans-serif" stroke="#000" stroke-width="0.9">】</tspan></text>
<text x="231.2" y="1095.3" font-family="'Liberation Serif', serif" font-weight="bold" font-size="56" fill="#000">Fig. 2</text>
</svg></body></html>
